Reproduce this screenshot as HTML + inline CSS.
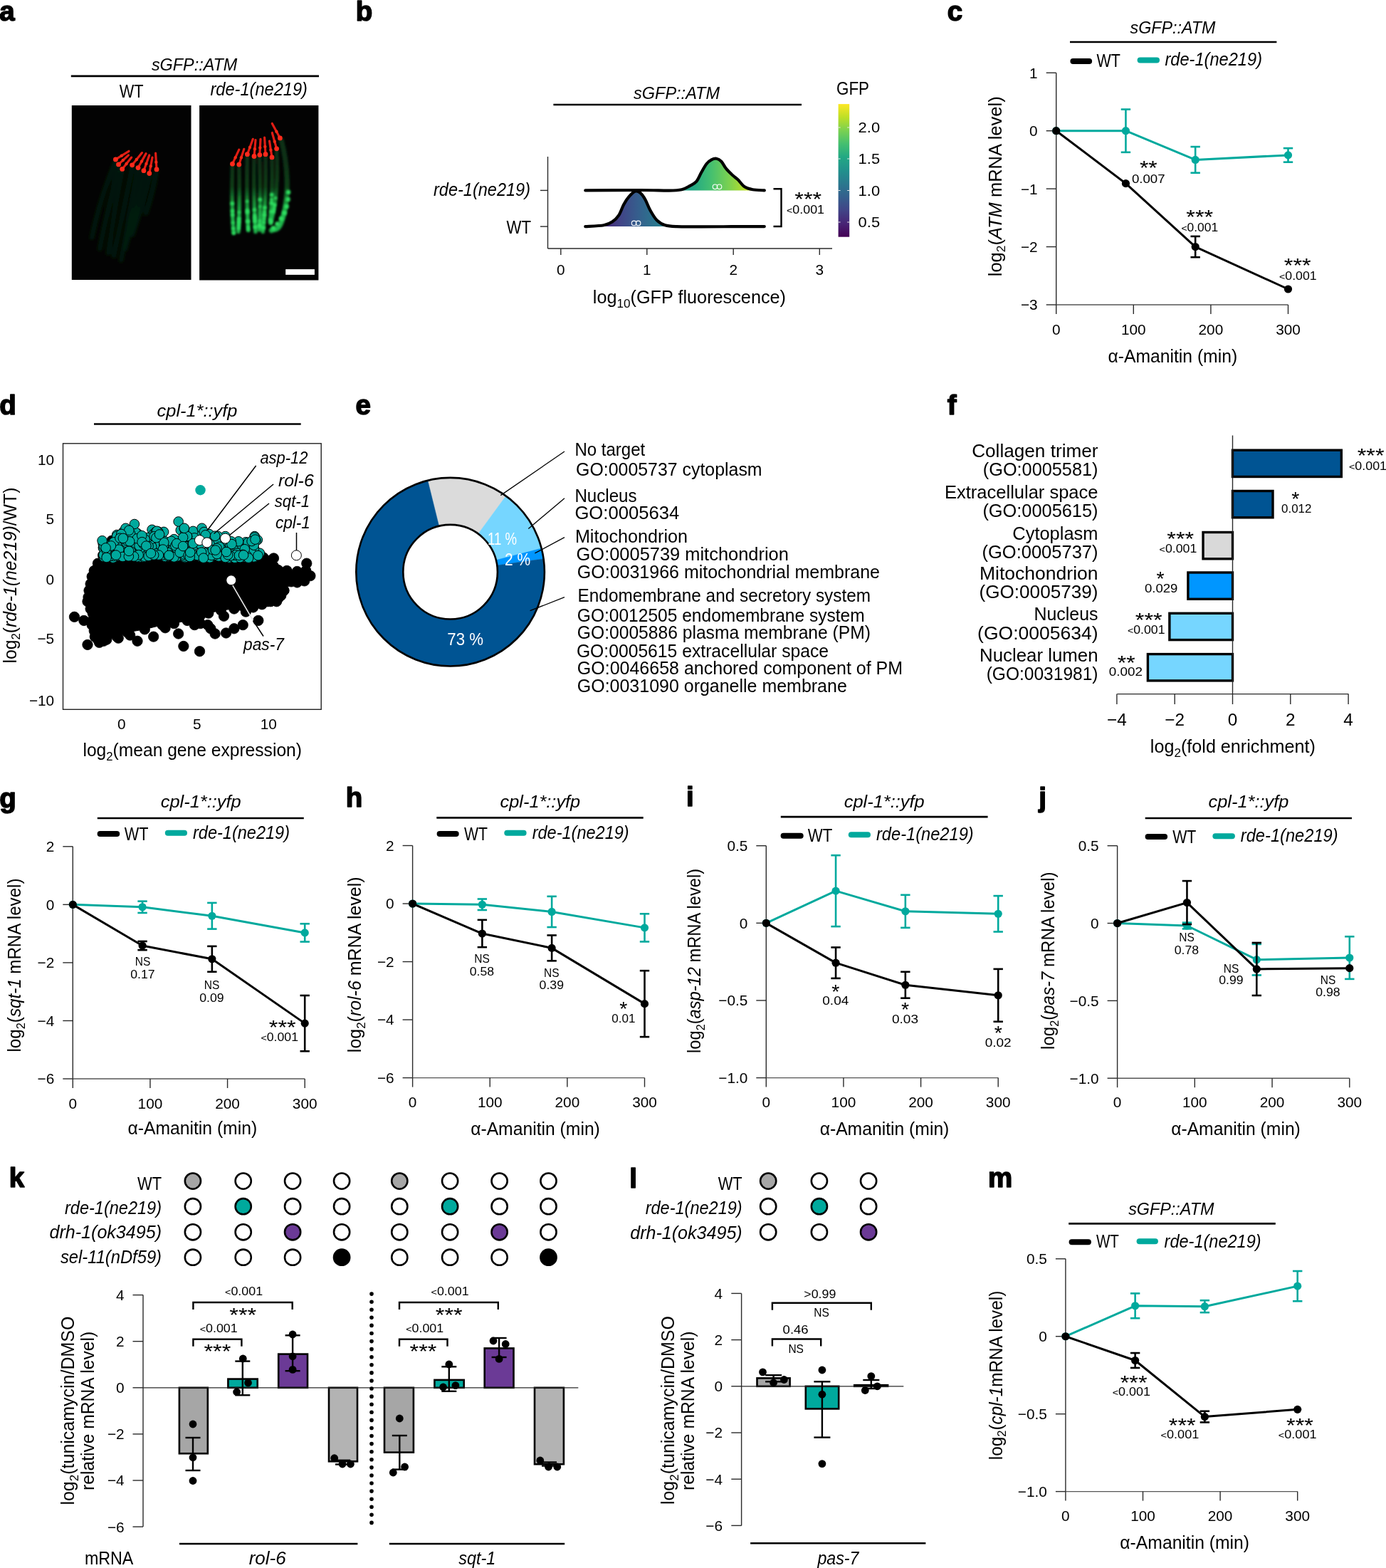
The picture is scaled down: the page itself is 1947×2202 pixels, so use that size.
<!DOCTYPE html>
<html><head><meta charset="utf-8"><title>Figure</title>
<style>
html,body{margin:0;padding:0;background:#fff;overflow:hidden;width:1947px;height:2202px;}
svg{display:block;}
text{font-family:"Liberation Sans",Arial,sans-serif;}
</style></head><body>
<svg width="1947" height="2202" viewBox="0 0 1947 2202">
<rect width="1947" height="2202" fill="#fff"/>
<defs><filter id="blur1" x="-20%" y="-20%" width="140%" height="140%"><feGaussianBlur stdDeviation="1.6"/></filter><filter id="blur2" x="-30%" y="-30%" width="160%" height="160%"><feGaussianBlur stdDeviation="2.5"/></filter><filter id="blur05" x="-20%" y="-20%" width="140%" height="140%"><feGaussianBlur stdDeviation="0.6"/></filter></defs>
<text x="-0.8" y="29.3" font-size="38.5" font-weight="bold" stroke="#000" stroke-width="1.5" stroke-linejoin="round">a</text>
<text x="273.1" y="98.5" font-size="24.5" text-anchor="middle" font-style="italic" textLength="120.4" lengthAdjust="spacingAndGlyphs">sGFP::ATM</text>
<line x1="99.8" y1="106.9" x2="448" y2="106.9" stroke="#000" stroke-width="2.6" />
<text x="184.7" y="137.4" font-size="25.3" text-anchor="middle" textLength="33.8" lengthAdjust="spacingAndGlyphs">WT</text>
<text x="363.7" y="133.8" font-size="25.3" text-anchor="middle" font-style="italic" textLength="136.6" lengthAdjust="spacingAndGlyphs">rde-1(ne219)</text>
<rect x="100.8" y="148" width="167.7" height="245" fill="#030303" />
<rect x="280.1" y="148" width="167.3" height="245.5" fill="#030303" />
<g filter="url(#blur2)">
<path d="M162.4,226 Q140,280 128.9,334" fill="none" stroke="#041a0a" stroke-width="6" stroke-linecap="round"/>
<path d="M166.5,233 Q150,300 140,350" fill="none" stroke="#041a0a" stroke-width="6" stroke-linecap="round"/>
<path d="M171.7,240 Q160,300 152,356" fill="none" stroke="#041a0a" stroke-width="6" stroke-linecap="round"/>
<path d="M185.6,234 Q172,300 160,360" fill="none" stroke="#041a0a" stroke-width="6" stroke-linecap="round"/>
<path d="M194,238 Q182,300 170,366" fill="none" stroke="#041a0a" stroke-width="6" stroke-linecap="round"/>
<path d="M201.9,242 Q190,300 176,350" fill="none" stroke="#041a0a" stroke-width="6" stroke-linecap="round"/>
<path d="M209.8,246 Q200,290 186,330" fill="none" stroke="#041a0a" stroke-width="6" stroke-linecap="round"/>
<path d="M220,240 Q215,270 205,300" fill="none" stroke="#041a0a" stroke-width="6" stroke-linecap="round"/>
</g>
<g filter="url(#blur05)">
<line x1="162.4" y1="223.9" x2="181" y2="212.3" stroke="#e01e12" stroke-width="3.2" stroke-linecap="round" />
<circle cx="170.77" cy="218.68" r="2.2" fill="#f02a18" />
<circle cx="162.4" cy="223.9" r="3.4" fill="#ff2a1a" />
<line x1="166.5" y1="230.9" x2="180.5" y2="217.9" stroke="#e01e12" stroke-width="3.2" stroke-linecap="round" />
<circle cx="172.8" cy="225.05" r="2.2" fill="#f02a18" />
<circle cx="166.5" cy="230.9" r="3.4" fill="#ff2a1a" />
<line x1="171.7" y1="237.4" x2="184.7" y2="221.1" stroke="#e01e12" stroke-width="3.2" stroke-linecap="round" />
<circle cx="177.55" cy="230.06" r="2.2" fill="#f02a18" />
<circle cx="171.7" cy="237.4" r="3.4" fill="#ff2a1a" />
<line x1="185.6" y1="231.8" x2="199.5" y2="214.6" stroke="#e01e12" stroke-width="3.2" stroke-linecap="round" />
<circle cx="191.85" cy="224.06" r="2.2" fill="#f02a18" />
<circle cx="185.6" cy="231.8" r="3.4" fill="#ff2a1a" />
<line x1="194" y1="235.6" x2="205.1" y2="215.6" stroke="#e01e12" stroke-width="3.2" stroke-linecap="round" />
<circle cx="199" cy="226.6" r="2.2" fill="#f02a18" />
<circle cx="194" cy="235.6" r="3.4" fill="#ff2a1a" />
<line x1="201.9" y1="239.7" x2="209.8" y2="217.9" stroke="#e01e12" stroke-width="3.2" stroke-linecap="round" />
<circle cx="205.46" cy="229.89" r="2.2" fill="#f02a18" />
<circle cx="201.9" cy="239.7" r="3.4" fill="#ff2a1a" />
<line x1="209.8" y1="243.5" x2="214" y2="221.1" stroke="#e01e12" stroke-width="3.2" stroke-linecap="round" />
<circle cx="211.69" cy="233.42" r="2.2" fill="#f02a18" />
<circle cx="209.8" cy="243.5" r="3.4" fill="#ff2a1a" />
<line x1="220" y1="237.9" x2="218.6" y2="215.1" stroke="#e01e12" stroke-width="3.2" stroke-linecap="round" />
<circle cx="219.37" cy="227.64" r="2.2" fill="#f02a18" />
<circle cx="220" cy="237.9" r="3.4" fill="#ff2a1a" />
</g>
<defs><linearGradient id="gw" gradientUnits="userSpaceOnUse" x1="0" y1="225" x2="0" y2="300"><stop offset="0" stop-color="#0a3114"/><stop offset="0.5" stop-color="#0c4018"/><stop offset="0.78" stop-color="#168e36"/><stop offset="1" stop-color="#1fb248"/></linearGradient></defs>
<g filter="url(#blur1)">
<path d="M326.5,233.4 Q325,290 328.3,327.3" fill="none" stroke="url(#gw)" stroke-width="5.5" stroke-linecap="round"/>
<path d="M335.8,233.4 Q337,290 334.9,325.5" fill="none" stroke="url(#gw)" stroke-width="5.5" stroke-linecap="round"/>
<path d="M347.4,219.5 Q346,280 348.8,323.6" fill="none" stroke="url(#gw)" stroke-width="5.5" stroke-linecap="round"/>
<path d="M357,222.3 Q356,280 359,325.5" fill="none" stroke="url(#gw)" stroke-width="5.5" stroke-linecap="round"/>
<path d="M364.8,220.4 Q366,280 364.6,322.7" fill="none" stroke="url(#gw)" stroke-width="5.5" stroke-linecap="round"/>
<path d="M373,219.5 Q374,280 369.3,325.5" fill="none" stroke="url(#gw)" stroke-width="5.5" stroke-linecap="round"/>
<path d="M382,224.1 Q383,275 379.5,312.5" fill="none" stroke="url(#gw)" stroke-width="5.5" stroke-linecap="round"/>
<path d="M388.6,212.1 Q392,270 380.4,313.4" fill="none" stroke="url(#gw)" stroke-width="5.5" stroke-linecap="round"/>
<path d="M395.3,197.2 C404,230 406,270 399,299.5 S386,320 381.3,323.6" fill="none" stroke="url(#gw)" stroke-width="7" stroke-linecap="round"/>
</g>
<g filter="url(#blur1)" fill="#2ee060">
<circle cx="326.48" cy="296.07" r="2.34"/>
<circle cx="326.7" cy="301.88" r="2.4"/>
<circle cx="327.23" cy="312.66" r="1.87"/>
<circle cx="326.21" cy="285.79" r="2.64"/>
<circle cx="326.51" cy="297.03" r="2.03"/>
<circle cx="328.29" cy="327.14" r="2.27"/>
<circle cx="327.79" cy="321.07" r="2.28"/>
<circle cx="335.55" cy="312" r="1.95"/>
<circle cx="335.56" cy="311.83" r="2.67"/>
<circle cx="335.71" cy="307.37" r="2.54"/>
<circle cx="335.5" cy="313.27" r="1.86"/>
<circle cx="335.36" cy="316.61" r="2.39"/>
<circle cx="335.96" cy="298.12" r="1.83"/>
<circle cx="335.17" cy="320.63" r="2.27"/>
<circle cx="348.1" cy="311.01" r="2.68"/>
<circle cx="348.09" cy="310.79" r="2.72"/>
<circle cx="347.49" cy="295.67" r="2.6"/>
<circle cx="347.57" cy="298.08" r="2.74"/>
<circle cx="348.48" cy="318.26" r="1.9"/>
<circle cx="347.16" cy="282.77" r="2.02"/>
<circle cx="348.7" cy="322.09" r="2.24"/>
<circle cx="358.02" cy="308.09" r="2.1"/>
<circle cx="357.76" cy="302.34" r="2.19"/>
<circle cx="357.47" cy="294.68" r="2.39"/>
<circle cx="357.93" cy="306.06" r="2.7"/>
<circle cx="358.15" cy="310.72" r="2.73"/>
<circle cx="358.59" cy="318.9" r="2.79"/>
<circle cx="358.12" cy="310.21" r="1.96"/>
<circle cx="364.78" cy="316.67" r="2.76"/>
<circle cx="364.73" cy="318.59" r="2.37"/>
<circle cx="364.95" cy="310.13" r="2.01"/>
<circle cx="364.82" cy="315.39" r="2.37"/>
<circle cx="365.27" cy="290.01" r="1.86"/>
<circle cx="364.79" cy="316.37" r="2.79"/>
<circle cx="365.34" cy="280.27" r="2.6"/>
<circle cx="371.58" cy="297.37" r="1.95"/>
<circle cx="371.91" cy="291.5" r="2.57"/>
<circle cx="369.87" cy="319.65" r="1.84"/>
<circle cx="370.9" cy="307.4" r="1.84"/>
<circle cx="370.51" cy="312.39" r="2.13"/>
<circle cx="369.84" cy="320.03" r="2.78"/>
<circle cx="371.28" cy="302.08" r="2.8"/>
<circle cx="381.38" cy="285.02" r="1.88"/>
<circle cx="380.72" cy="296.95" r="1.83"/>
<circle cx="381.58" cy="280.24" r="2.21"/>
<circle cx="380.69" cy="297.38" r="1.96"/>
<circle cx="381.82" cy="273.52" r="2.67"/>
<circle cx="381.37" cy="285.19" r="2.76"/>
<circle cx="379.85" cy="308.59" r="2.18"/>
<circle cx="385.57" cy="288.93" r="2.32"/>
<circle cx="384.06" cy="297.49" r="2.4"/>
<circle cx="384.78" cy="293.57" r="2.42"/>
<circle cx="381.08" cy="310.81" r="2.31"/>
<circle cx="385.78" cy="287.54" r="2.52"/>
<circle cx="387.06" cy="278.21" r="2.1"/>
<circle cx="380.66" cy="312.43" r="2.32"/>
<circle cx="405" cy="270" r="3.2"/>
<circle cx="404.5" cy="280" r="3.2"/>
<circle cx="402.5" cy="290" r="3.2"/>
<circle cx="399.5" cy="299" r="3.2"/>
<circle cx="395" cy="307" r="3.2"/>
<circle cx="389.5" cy="314.5" r="3.2"/>
<circle cx="384" cy="320.5" r="3.2"/>
</g>
<g filter="url(#blur05)">
<line x1="326.5" y1="230.2" x2="335.8" y2="210.2" stroke="#e01e12" stroke-width="3.2" stroke-linecap="round" />
<circle cx="330.69" cy="221.2" r="2.2" fill="#f02a18" />
<circle cx="326.5" cy="230.2" r="3.4" fill="#ff2a1a" />
<line x1="335.8" y1="231.1" x2="342.8" y2="209.3" stroke="#e01e12" stroke-width="3.2" stroke-linecap="round" />
<circle cx="338.95" cy="221.29" r="2.2" fill="#f02a18" />
<circle cx="335.8" cy="231.1" r="3.4" fill="#ff2a1a" />
<line x1="347.4" y1="216.7" x2="355.3" y2="195.3" stroke="#e01e12" stroke-width="3.2" stroke-linecap="round" />
<circle cx="350.95" cy="207.07" r="2.2" fill="#f02a18" />
<circle cx="347.4" cy="216.7" r="3.4" fill="#ff2a1a" />
<line x1="357" y1="219.5" x2="359" y2="196.7" stroke="#e01e12" stroke-width="3.2" stroke-linecap="round" />
<circle cx="357.9" cy="209.24" r="2.2" fill="#f02a18" />
<circle cx="357" cy="219.5" r="3.4" fill="#ff2a1a" />
<line x1="364.8" y1="217.6" x2="366" y2="195.3" stroke="#e01e12" stroke-width="3.2" stroke-linecap="round" />
<circle cx="365.34" cy="207.56" r="2.2" fill="#f02a18" />
<circle cx="364.8" cy="217.6" r="3.4" fill="#ff2a1a" />
<line x1="373" y1="216.7" x2="371.6" y2="193" stroke="#e01e12" stroke-width="3.2" stroke-linecap="round" />
<circle cx="372.37" cy="206.03" r="2.2" fill="#f02a18" />
<circle cx="373" cy="216.7" r="3.4" fill="#ff2a1a" />
<line x1="382" y1="220.9" x2="378.5" y2="198.1" stroke="#e01e12" stroke-width="3.2" stroke-linecap="round" />
<circle cx="380.43" cy="210.64" r="2.2" fill="#f02a18" />
<circle cx="382" cy="220.9" r="3.4" fill="#ff2a1a" />
<line x1="388.6" y1="208.8" x2="382.3" y2="186.5" stroke="#e01e12" stroke-width="3.2" stroke-linecap="round" />
<circle cx="385.77" cy="198.77" r="2.2" fill="#f02a18" />
<circle cx="388.6" cy="208.8" r="3.4" fill="#ff2a1a" />
<line x1="393.4" y1="193.9" x2="382.3" y2="173.5" stroke="#e01e12" stroke-width="3.2" stroke-linecap="round" />
<circle cx="388.4" cy="184.72" r="2.2" fill="#f02a18" />
<circle cx="393.4" cy="193.9" r="3.4" fill="#ff2a1a" />
</g>
<rect x="401.2" y="378.1" width="40.7" height="7.8" fill="#fff" />
<text x="499.7" y="29.3" font-size="38.5" font-weight="bold" stroke="#000" stroke-width="1.5" stroke-linejoin="round">b</text>
<text x="950.5" y="138.5" font-size="24.5" text-anchor="middle" font-style="italic" textLength="121" lengthAdjust="spacingAndGlyphs">sGFP::ATM</text>
<line x1="777.4" y1="147" x2="1126" y2="147" stroke="#000" stroke-width="2.6" />
<defs><linearGradient id="vir" x1="0" y1="1" x2="0" y2="0"><stop offset="0" stop-color="#440154"/><stop offset="0.1" stop-color="#482475"/><stop offset="0.2" stop-color="#414487"/><stop offset="0.3" stop-color="#355f8d"/><stop offset="0.4" stop-color="#2a788e"/><stop offset="0.5" stop-color="#21918c"/><stop offset="0.6" stop-color="#22a884"/><stop offset="0.7" stop-color="#44bf70"/><stop offset="0.8" stop-color="#7ad151"/><stop offset="0.9" stop-color="#bddf26"/><stop offset="1" stop-color="#fde725"/></linearGradient><linearGradient id="virx" gradientUnits="userSpaceOnUse" x1="820.6" y1="0" x2="1074.7" y2="0"><stop offset="0" stop-color="#440154"/><stop offset="0.1" stop-color="#482475"/><stop offset="0.2" stop-color="#414487"/><stop offset="0.3" stop-color="#355f8d"/><stop offset="0.4" stop-color="#2a788e"/><stop offset="0.5" stop-color="#21918c"/><stop offset="0.6" stop-color="#22a884"/><stop offset="0.7" stop-color="#44bf70"/><stop offset="0.8" stop-color="#7ad151"/><stop offset="0.9" stop-color="#bddf26"/><stop offset="1" stop-color="#fde725"/></linearGradient></defs>
<rect x="1177.6" y="146.1" width="15.6" height="186.6" fill="url(#vir)" />
<line x1="1177.6" y1="179" x2="1180.6" y2="179" stroke="#e8e8e8" stroke-width="1" />
<line x1="1190.2" y1="179" x2="1193.2" y2="179" stroke="#e8e8e8" stroke-width="1" />
<line x1="1177.6" y1="223" x2="1180.6" y2="223" stroke="#e8e8e8" stroke-width="1" />
<line x1="1190.2" y1="223" x2="1193.2" y2="223" stroke="#e8e8e8" stroke-width="1" />
<line x1="1177.6" y1="267.5" x2="1180.6" y2="267.5" stroke="#e8e8e8" stroke-width="1" />
<line x1="1190.2" y1="267.5" x2="1193.2" y2="267.5" stroke="#e8e8e8" stroke-width="1" />
<line x1="1177.6" y1="312" x2="1180.6" y2="312" stroke="#e8e8e8" stroke-width="1" />
<line x1="1190.2" y1="312" x2="1193.2" y2="312" stroke="#e8e8e8" stroke-width="1" />
<text x="1175" y="133.4" font-size="25.3" textLength="46" lengthAdjust="spacingAndGlyphs">GFP</text>
<text x="1205.6" y="186.4" font-size="20.8" textLength="30.5" lengthAdjust="spacingAndGlyphs">2.0</text>
<text x="1205.6" y="230.4" font-size="20.8" textLength="30.5" lengthAdjust="spacingAndGlyphs">1.5</text>
<text x="1205.6" y="274.9" font-size="20.8" textLength="30.5" lengthAdjust="spacingAndGlyphs">1.0</text>
<text x="1205.6" y="319.4" font-size="20.8" textLength="30.5" lengthAdjust="spacingAndGlyphs">0.5</text>
<line x1="769.5" y1="220" x2="769.5" y2="349" stroke="#2a2a2a" stroke-width="1.4" />
<line x1="769.5" y1="349" x2="1169" y2="349" stroke="#2a2a2a" stroke-width="1.4" />
<line x1="787.8" y1="349" x2="787.8" y2="358" stroke="#2a2a2a" stroke-width="1.4" />
<text x="787.8" y="385.8" font-size="20.8" text-anchor="middle">0</text>
<line x1="908.8" y1="349" x2="908.8" y2="358" stroke="#2a2a2a" stroke-width="1.4" />
<text x="908.8" y="385.8" font-size="20.8" text-anchor="middle">1</text>
<line x1="1030.2" y1="349" x2="1030.2" y2="358" stroke="#2a2a2a" stroke-width="1.4" />
<text x="1030.2" y="385.8" font-size="20.8" text-anchor="middle">2</text>
<line x1="1151.3" y1="349" x2="1151.3" y2="358" stroke="#2a2a2a" stroke-width="1.4" />
<text x="1151.3" y="385.8" font-size="20.8" text-anchor="middle">3</text>
<line x1="759" y1="267.4" x2="769.5" y2="267.4" stroke="#2a2a2a" stroke-width="1.4" />
<line x1="759" y1="318.1" x2="769.5" y2="318.1" stroke="#2a2a2a" stroke-width="1.4" />
<text x="745" y="275" font-size="25.3" text-anchor="end" font-style="italic" textLength="136" lengthAdjust="spacingAndGlyphs">rde-1(ne219)</text>
<text x="746" y="327.5" font-size="25.3" text-anchor="end" textLength="34.5" lengthAdjust="spacingAndGlyphs">WT</text>
<path d="M822.3,318.1 C826.63,317.78 842.02,317.28 848.3,316.2 C854.58,315.12 856.52,313.92 860,311.6 C863.48,309.28 866.5,306.37 869.2,302.3 C871.9,298.23 873.87,291.47 876.2,287.2 C878.53,282.93 880.48,279.8 883.2,276.7 C885.92,273.6 889.78,269.57 892.5,268.6 C895.22,267.63 897.18,268.97 899.5,270.9 C901.82,272.83 904.08,276.13 906.4,280.2 C908.72,284.27 910.68,290.47 913.4,295.3 C916.12,300.13 919.22,305.72 922.7,309.2 C926.18,312.68 929.65,314.72 934.3,316.2 C938.95,317.68 942.15,317.75 950.6,318.1 C959.05,318.45 964.47,318.3 985,318.3 C1005.53,318.3 1059,318.13 1073.8,318.1 L822.3,318.1 Z" fill="url(#virx)" />
<path d="M822.3,267.4 C835.25,267.33 880.38,266.97 900,267 C919.62,267.03 930.4,267.73 940,267.6 C949.6,267.47 952.73,267.32 957.6,266.2 C962.47,265.08 965.72,262.83 969.2,260.9 C972.68,258.97 975.8,257.78 978.5,254.6 C981.2,251.42 983.08,245.87 985.4,241.8 C987.72,237.73 990.07,233.1 992.4,230.2 C994.73,227.3 997.07,225.63 999.4,224.4 C1001.73,223.17 1004.08,222.42 1006.4,222.8 C1008.72,223.18 1010.98,224.3 1013.3,226.7 C1015.62,229.1 1017.58,233.9 1020.3,237.2 C1023.02,240.5 1026.88,243.98 1029.6,246.5 C1032.32,249.02 1033.88,249.67 1036.6,252.3 C1039.32,254.93 1042.42,259.98 1045.9,262.3 C1049.38,264.62 1052.85,265.35 1057.5,266.2 C1062.15,267.05 1071.08,267.2 1073.8,267.4 L822.3,267.4 Z" fill="url(#virx)" />
<path d="M822.3,318.1 C826.63,317.78 842.02,317.28 848.3,316.2 C854.58,315.12 856.52,313.92 860,311.6 C863.48,309.28 866.5,306.37 869.2,302.3 C871.9,298.23 873.87,291.47 876.2,287.2 C878.53,282.93 880.48,279.8 883.2,276.7 C885.92,273.6 889.78,269.57 892.5,268.6 C895.22,267.63 897.18,268.97 899.5,270.9 C901.82,272.83 904.08,276.13 906.4,280.2 C908.72,284.27 910.68,290.47 913.4,295.3 C916.12,300.13 919.22,305.72 922.7,309.2 C926.18,312.68 929.65,314.72 934.3,316.2 C938.95,317.68 942.15,317.75 950.6,318.1 C959.05,318.45 964.47,318.3 985,318.3 C1005.53,318.3 1059,318.13 1073.8,318.1" fill="none" stroke="#000" stroke-width="4.2" stroke-linecap="round" stroke-linejoin="round"/>
<path d="M822.3,267.4 C835.25,267.33 880.38,266.97 900,267 C919.62,267.03 930.4,267.73 940,267.6 C949.6,267.47 952.73,267.32 957.6,266.2 C962.47,265.08 965.72,262.83 969.2,260.9 C972.68,258.97 975.8,257.78 978.5,254.6 C981.2,251.42 983.08,245.87 985.4,241.8 C987.72,237.73 990.07,233.1 992.4,230.2 C994.73,227.3 997.07,225.63 999.4,224.4 C1001.73,223.17 1004.08,222.42 1006.4,222.8 C1008.72,223.18 1010.98,224.3 1013.3,226.7 C1015.62,229.1 1017.58,233.9 1020.3,237.2 C1023.02,240.5 1026.88,243.98 1029.6,246.5 C1032.32,249.02 1033.88,249.67 1036.6,252.3 C1039.32,254.93 1042.42,259.98 1045.9,262.3 C1049.38,264.62 1052.85,265.35 1057.5,266.2 C1062.15,267.05 1071.08,267.2 1073.8,267.4" fill="none" stroke="#000" stroke-width="4.2" stroke-linecap="round" stroke-linejoin="round"/>
<circle cx="1004.5" cy="262.3" r="3.3" fill="none" stroke="#fff" stroke-width="1.1" />
<circle cx="1010.5" cy="262.3" r="3.3" fill="none" stroke="#fff" stroke-width="1.1" />
<circle cx="890.6" cy="313.4" r="3.3" fill="none" stroke="#fff" stroke-width="1.1" />
<circle cx="896.6" cy="313.4" r="3.3" fill="none" stroke="#fff" stroke-width="1.1" />
<path d="M1086.5,265.2 H1097.5 V318 H1086.5" fill="none" stroke="#000" stroke-width="2.4" />
<text x="1135.3" y="289.21" font-size="28.5" text-anchor="middle" textLength="37.9" lengthAdjust="spacingAndGlyphs">***</text>
<text x="1105" y="300" font-size="17" textLength="53" lengthAdjust="spacingAndGlyphs"><tspan font-size="13.6">&lt;</tspan>0.001</text>
<text x="968.4" y="426" font-size="25.3" text-anchor="middle" textLength="271.2" lengthAdjust="spacingAndGlyphs"><tspan>log</tspan><tspan font-size="17.2" dy="5.57">10</tspan><tspan dy="-5.57">(GFP fluorescence)</tspan></text>
<text x="1330.7" y="28.6" font-size="38.5" font-weight="bold" stroke="#000" stroke-width="1.5" stroke-linejoin="round">c</text>
<text x="1647.5" y="46.5" font-size="24.5" text-anchor="middle" font-style="italic" textLength="120" lengthAdjust="spacingAndGlyphs">sGFP::ATM</text>
<line x1="1503" y1="59" x2="1793.4" y2="59" stroke="#000" stroke-width="2.6" />
<line x1="1507.4" y1="86" x2="1530.1" y2="86" stroke="#000" stroke-width="8" stroke-linecap="round" />
<text x="1540.6" y="93.8" font-size="25.3" textLength="33.4" lengthAdjust="spacingAndGlyphs">WT</text>
<line x1="1601.6" y1="84.5" x2="1625" y2="84.5" stroke="#00a99d" stroke-width="8" stroke-linecap="round" />
<text x="1636.5" y="91.9" font-size="25.3" font-style="italic" textLength="136.5" lengthAdjust="spacingAndGlyphs">rde-1(ne219)</text>
<line x1="1483.7" y1="102.27" x2="1483.7" y2="428" stroke="#2a2a2a" stroke-width="1.4" />
<line x1="1483.7" y1="428" x2="1809.5" y2="428" stroke="#555" stroke-width="1.4" />
<line x1="1469.7" y1="102.27" x2="1483.7" y2="102.27" stroke="#2a2a2a" stroke-width="1.4" />
<text x="1457.7" y="109.67" font-size="20.8" text-anchor="end">1</text>
<line x1="1469.7" y1="183.7" x2="1483.7" y2="183.7" stroke="#2a2a2a" stroke-width="1.4" />
<text x="1457.7" y="191.1" font-size="20.8" text-anchor="end">0</text>
<line x1="1469.7" y1="265.13" x2="1483.7" y2="265.13" stroke="#2a2a2a" stroke-width="1.4" />
<text x="1457.7" y="272.53" font-size="20.8" text-anchor="end">−1</text>
<line x1="1469.7" y1="346.57" x2="1483.7" y2="346.57" stroke="#2a2a2a" stroke-width="1.4" />
<text x="1457.7" y="353.97" font-size="20.8" text-anchor="end">−2</text>
<line x1="1469.7" y1="428" x2="1483.7" y2="428" stroke="#2a2a2a" stroke-width="1.4" />
<text x="1457.7" y="435.4" font-size="20.8" text-anchor="end">−3</text>
<line x1="1483.7" y1="428" x2="1483.7" y2="441" stroke="#2a2a2a" stroke-width="1.4" />
<text x="1483.7" y="469.8" font-size="20.8" text-anchor="middle">0</text>
<line x1="1592.3" y1="428" x2="1592.3" y2="441" stroke="#2a2a2a" stroke-width="1.4" />
<text x="1592.3" y="469.8" font-size="20.8" text-anchor="middle">100</text>
<line x1="1700.9" y1="428" x2="1700.9" y2="441" stroke="#2a2a2a" stroke-width="1.4" />
<text x="1700.9" y="469.8" font-size="20.8" text-anchor="middle">200</text>
<line x1="1809.5" y1="428" x2="1809.5" y2="441" stroke="#2a2a2a" stroke-width="1.4" />
<text x="1809.5" y="469.8" font-size="20.8" text-anchor="middle">300</text>
<text x="1647.3" y="508.5" font-size="25.3" text-anchor="middle" textLength="181.7" lengthAdjust="spacingAndGlyphs"><tspan>α-Amanitin (min)</tspan></text>
<text x="0" y="0" font-size="25.3" text-anchor="middle" textLength="252.9" lengthAdjust="spacingAndGlyphs" transform="translate(1406.7,261.8) rotate(-90)"><tspan>log</tspan><tspan font-size="17.2" dy="5.57">2</tspan><tspan dy="-5.57">(</tspan><tspan font-style="italic">ATM</tspan><tspan> mRNA level)</tspan></text>
<line x1="1581.44" y1="213.83" x2="1581.44" y2="153.57" stroke="#00a99d" stroke-width="2.6" />
<line x1="1574.74" y1="213.83" x2="1588.14" y2="213.83" stroke="#00a99d" stroke-width="2.6" />
<line x1="1574.74" y1="153.57" x2="1588.14" y2="153.57" stroke="#00a99d" stroke-width="2.6" />
<line x1="1679.18" y1="242.74" x2="1679.18" y2="206.09" stroke="#00a99d" stroke-width="2.6" />
<line x1="1672.48" y1="242.74" x2="1685.88" y2="242.74" stroke="#00a99d" stroke-width="2.6" />
<line x1="1672.48" y1="206.09" x2="1685.88" y2="206.09" stroke="#00a99d" stroke-width="2.6" />
<line x1="1809.5" y1="227.67" x2="1809.5" y2="208.13" stroke="#00a99d" stroke-width="2.6" />
<line x1="1802.8" y1="227.67" x2="1816.2" y2="227.67" stroke="#00a99d" stroke-width="2.6" />
<line x1="1802.8" y1="208.13" x2="1816.2" y2="208.13" stroke="#00a99d" stroke-width="2.6" />
<polyline points="1483.7,183.7 1581.44,183.7 1679.18,224.42 1809.5,217.9" fill="none" stroke="#00a99d" stroke-width="3" stroke-linejoin="round"/>
<circle cx="1483.7" cy="183.7" r="5.6" fill="#00a99d" />
<circle cx="1581.44" cy="183.7" r="5.6" fill="#00a99d" />
<circle cx="1679.18" cy="224.42" r="5.6" fill="#00a99d" />
<circle cx="1809.5" cy="217.9" r="5.6" fill="#00a99d" />
<line x1="1679.18" y1="361.22" x2="1679.18" y2="331.91" stroke="#000" stroke-width="2.6" />
<line x1="1672.48" y1="361.22" x2="1685.88" y2="361.22" stroke="#000" stroke-width="2.6" />
<line x1="1672.48" y1="331.91" x2="1685.88" y2="331.91" stroke="#000" stroke-width="2.6" />
<polyline points="1483.7,183.7 1581.44,257.64 1679.18,346.57 1809.5,406.01" fill="none" stroke="#000" stroke-width="3" stroke-linejoin="round"/>
<circle cx="1483.7" cy="183.7" r="5.6" fill="#000" />
<circle cx="1581.44" cy="257.64" r="5.6" fill="#000" />
<circle cx="1679.18" cy="346.57" r="5.6" fill="#000" />
<circle cx="1809.5" cy="406.01" r="5.6" fill="#000" />
<text x="1613.3" y="245.41" font-size="28.5" text-anchor="middle" textLength="24.8" lengthAdjust="spacingAndGlyphs">**</text>
<text x="1589.9" y="256.9" font-size="17" textLength="46.7" lengthAdjust="spacingAndGlyphs">0.007</text>
<text x="1685.3" y="313.81" font-size="28.5" text-anchor="middle" textLength="37.9" lengthAdjust="spacingAndGlyphs">***</text>
<text x="1659.4" y="325.3" font-size="17" textLength="51.8" lengthAdjust="spacingAndGlyphs"><tspan font-size="13.6">&lt;</tspan>0.001</text>
<text x="1822.7" y="382.11" font-size="28.5" text-anchor="middle" textLength="37.9" lengthAdjust="spacingAndGlyphs">***</text>
<text x="1797" y="392.7" font-size="17" textLength="52.6" lengthAdjust="spacingAndGlyphs"><tspan font-size="13.6">&lt;</tspan>0.001</text>
<text x="-0.8" y="582.3" font-size="38.5" font-weight="bold" stroke="#000" stroke-width="1.5" stroke-linejoin="round">d</text>
<text x="277" y="585" font-size="24.5" text-anchor="middle" font-style="italic" textLength="112.8" lengthAdjust="spacingAndGlyphs">cpl-1*::yfp</text>
<line x1="132" y1="595.5" x2="422.7" y2="595.5" stroke="#000" stroke-width="2.6" />
<text x="76.2" y="652.8" font-size="20.8" text-anchor="end">10</text>
<text x="76.2" y="736.2" font-size="20.8" text-anchor="end">5</text>
<text x="76.2" y="820.7" font-size="20.8" text-anchor="end">0</text>
<text x="76.2" y="903.8" font-size="20.8" text-anchor="end">−5</text>
<text x="76.2" y="990.5" font-size="20.8" text-anchor="end">−10</text>
<text x="170.8" y="1023.7" font-size="20.8" text-anchor="middle">0</text>
<text x="276.9" y="1023.7" font-size="20.8" text-anchor="middle">5</text>
<text x="377.3" y="1023.7" font-size="20.8" text-anchor="middle">10</text>
<text x="270.2" y="1062.3" font-size="25.3" text-anchor="middle" textLength="307.5" lengthAdjust="spacingAndGlyphs"><tspan>log</tspan><tspan font-size="17.2" dy="5.57">2</tspan><tspan dy="-5.57">(mean gene expression)</tspan></text>
<text x="0" y="0" font-size="25.3" text-anchor="middle" textLength="247" lengthAdjust="spacingAndGlyphs" transform="translate(22.9,808.1) rotate(-90)"><tspan>log</tspan><tspan font-size="17.2" dy="5.57">2</tspan><tspan dy="-5.57">(</tspan><tspan font-style="italic">rde-1(ne219)</tspan><tspan>/WT)</tspan></text>
<g fill="#000" stroke="#000" stroke-width="0.8">
<path d="M144.61,779.85 L137.41,791.17 L132.26,801.46 L129.17,809.7 L127.12,819.99 L125.06,829.26 L124.03,838.52 L123,844.7 L127.12,854.99 L130.2,861.17 L131.23,869.4 L129.17,877.64 L132.26,885.87 L133.29,894.1 L137.41,898.22 L149.76,898.22 L164.17,894.1 L178.58,887.93 L203.29,883.81 L227.99,877.64 L244.46,875.58 L262.99,871.46 L281.52,875.58 L292.84,861.17 L310.34,857.05 L328.87,854.99 L345.34,859.11 L355.63,852.93 L367.98,848.81 L380.34,844.7 L388.57,844.7 L394.75,836.46 L398.86,829.26 L392.69,819.99 L402.98,816.9 L417.39,817.93 L427.69,815.87 L435.92,808.67 L429.74,801.46 L417.39,802.49 L402.98,801.46 L390.63,800.43 L384.45,795.29 L380.34,787.05 L370.04,782.93 L361.81,783.96 L293.87,782.52 L211.52,782.52 L149.76,781.91 Z" fill="#000" stroke="#000" stroke-width="1" />
<circle cx="144.61" cy="779.85" r="7.2" fill="#000" />
<circle cx="137.41" cy="791.17" r="7.2" fill="#000" />
<circle cx="132.26" cy="801.46" r="7.2" fill="#000" />
<circle cx="129.17" cy="809.7" r="7.2" fill="#000" />
<circle cx="127.12" cy="819.99" r="7.2" fill="#000" />
<circle cx="125.06" cy="829.26" r="7.2" fill="#000" />
<circle cx="124.03" cy="838.52" r="7.2" fill="#000" />
<circle cx="123" cy="844.7" r="7.2" fill="#000" />
<circle cx="127.12" cy="854.99" r="7.2" fill="#000" />
<circle cx="130.2" cy="861.17" r="7.2" fill="#000" />
<circle cx="131.23" cy="869.4" r="7.2" fill="#000" />
<circle cx="129.17" cy="877.64" r="7.2" fill="#000" />
<circle cx="132.26" cy="885.87" r="7.2" fill="#000" />
<circle cx="133.29" cy="894.1" r="7.2" fill="#000" />
<circle cx="137.41" cy="898.22" r="7.2" fill="#000" />
<circle cx="149.76" cy="898.22" r="7.2" fill="#000" />
<circle cx="164.17" cy="894.1" r="7.2" fill="#000" />
<circle cx="178.58" cy="887.93" r="7.2" fill="#000" />
<circle cx="203.29" cy="883.81" r="7.2" fill="#000" />
<circle cx="227.99" cy="877.64" r="7.2" fill="#000" />
<circle cx="244.46" cy="875.58" r="7.2" fill="#000" />
<circle cx="262.99" cy="871.46" r="7.2" fill="#000" />
<circle cx="281.52" cy="875.58" r="7.2" fill="#000" />
<circle cx="292.84" cy="861.17" r="7.2" fill="#000" />
<circle cx="310.34" cy="857.05" r="7.2" fill="#000" />
<circle cx="328.87" cy="854.99" r="7.2" fill="#000" />
<circle cx="345.34" cy="859.11" r="7.2" fill="#000" />
<circle cx="355.63" cy="852.93" r="7.2" fill="#000" />
<circle cx="367.98" cy="848.81" r="7.2" fill="#000" />
<circle cx="380.34" cy="844.7" r="7.2" fill="#000" />
<circle cx="388.57" cy="844.7" r="7.2" fill="#000" />
<circle cx="394.75" cy="836.46" r="7.2" fill="#000" />
<circle cx="398.86" cy="829.26" r="7.2" fill="#000" />
<circle cx="392.69" cy="819.99" r="7.2" fill="#000" />
<circle cx="402.98" cy="816.9" r="7.2" fill="#000" />
<circle cx="417.39" cy="817.93" r="7.2" fill="#000" />
<circle cx="427.69" cy="815.87" r="7.2" fill="#000" />
<circle cx="435.92" cy="808.67" r="7.2" fill="#000" />
<circle cx="429.74" cy="801.46" r="7.2" fill="#000" />
<circle cx="417.39" cy="802.49" r="7.2" fill="#000" />
<circle cx="402.98" cy="801.46" r="7.2" fill="#000" />
<circle cx="390.63" cy="800.43" r="7.2" fill="#000" />
<circle cx="384.45" cy="795.29" r="7.2" fill="#000" />
<circle cx="380.34" cy="787.05" r="7.2" fill="#000" />
<circle cx="370.04" cy="782.93" r="7.2" fill="#000" />
<circle cx="361.81" cy="783.96" r="7.2" fill="#000" />
<circle cx="293.87" cy="782.52" r="7.2" fill="#000" />
<circle cx="211.52" cy="782.52" r="7.2" fill="#000" />
<circle cx="149.76" cy="781.91" r="7.2" fill="#000" />
<circle cx="192.99" cy="900.28" r="7.2" fill="#000" />
<circle cx="215.64" cy="894.1" r="7.2" fill="#000" />
<circle cx="250.64" cy="889.99" r="7.2" fill="#000" />
<circle cx="295.93" cy="882.78" r="7.2" fill="#000" />
<circle cx="302.1" cy="889.99" r="7.2" fill="#000" />
<circle cx="317.55" cy="888.96" r="7.2" fill="#000" />
<circle cx="328.87" cy="882.78" r="7.2" fill="#000" />
<circle cx="341.22" cy="877.64" r="7.2" fill="#000" />
<circle cx="362.84" cy="871.46" r="7.2" fill="#000" />
<circle cx="384.45" cy="783.96" r="7.2" fill="#000" />
<circle cx="104.47" cy="866.31" r="7.2" fill="#000" />
<circle cx="117.85" cy="871.46" r="7.2" fill="#000" />
<circle cx="123" cy="905.43" r="7.2" fill="#000" />
<circle cx="257.84" cy="907.49" r="7.2" fill="#000" />
<circle cx="280.49" cy="914.69" r="7.2" fill="#000" />
<circle cx="430.77" cy="791.17" r="7.2" fill="#000" />
<circle cx="156.97" cy="759.26" r="7.2" fill="#000" />
<circle cx="417.39" cy="815.87" r="7.2" fill="#000" />
<circle cx="409.16" cy="816.9" r="7.2" fill="#000" />
<circle cx="398.86" cy="829.26" r="7.2" fill="#000" />
<circle cx="390.63" cy="840.58" r="7.2" fill="#000" />
<circle cx="376.22" cy="844.7" r="7.2" fill="#000" />
<circle cx="388.57" cy="834.4" r="7.2" fill="#000" />
<circle cx="273.28" cy="877.64" r="7.2" fill="#000" />
<circle cx="291.81" cy="877.64" r="7.2" fill="#000" />
<circle cx="182.7" cy="892.05" r="7.2" fill="#000" />
<circle cx="166.23" cy="896.16" r="7.2" fill="#000" />
<circle cx="139.47" cy="902.34" r="7.2" fill="#000" />
<circle cx="145.64" cy="900.28" r="7.2" fill="#000" />
<circle cx="232.11" cy="881.75" r="7.2" fill="#000" />
<circle cx="314.46" cy="865.28" r="7.2" fill="#000" />
</g>
<g fill="#00a99d" stroke="#000" stroke-width="1.0">
<circle cx="321.7" cy="783.57" r="6.8"/>
<circle cx="231.52" cy="765.5" r="6.8"/>
<circle cx="213.58" cy="743.82" r="6.8"/>
<circle cx="323.32" cy="769.81" r="6.8"/>
<circle cx="353.35" cy="768.49" r="6.8"/>
<circle cx="187.33" cy="751.77" r="6.8"/>
<circle cx="172.34" cy="752.88" r="6.8"/>
<circle cx="331.95" cy="767.15" r="6.8"/>
<circle cx="259.6" cy="753.35" r="6.8"/>
<circle cx="144.85" cy="769.14" r="6.8"/>
<circle cx="265.52" cy="765.45" r="6.8"/>
<circle cx="284.04" cy="757.71" r="6.8"/>
<circle cx="225.19" cy="767.5" r="6.8"/>
<circle cx="197.96" cy="782.84" r="6.8"/>
<circle cx="197.88" cy="769.96" r="6.8"/>
<circle cx="155.61" cy="769.84" r="6.8"/>
<circle cx="316.52" cy="753.08" r="6.8"/>
<circle cx="187.54" cy="746.3" r="6.8"/>
<circle cx="166.76" cy="762.73" r="6.8"/>
<circle cx="339.26" cy="775.3" r="6.8"/>
<circle cx="215.28" cy="750.15" r="6.8"/>
<circle cx="360.63" cy="779.41" r="6.8"/>
<circle cx="167.77" cy="769.22" r="6.8"/>
<circle cx="185.96" cy="759.49" r="6.8"/>
<circle cx="257.57" cy="781.48" r="6.8"/>
<circle cx="192.99" cy="748.97" r="6.8"/>
<circle cx="350.22" cy="764.79" r="6.8"/>
<circle cx="313.14" cy="768.76" r="6.8"/>
<circle cx="343.15" cy="778.99" r="6.8"/>
<circle cx="215.75" cy="764.82" r="6.8"/>
<circle cx="357.69" cy="753.08" r="6.8"/>
<circle cx="345.34" cy="761.32" r="6.8"/>
<circle cx="194.09" cy="767.31" r="6.8"/>
<circle cx="343.21" cy="782.31" r="6.8"/>
<circle cx="176.09" cy="747.24" r="6.8"/>
<circle cx="221.82" cy="763.05" r="6.8"/>
<circle cx="261.56" cy="761.88" r="6.8"/>
<circle cx="167.48" cy="759.37" r="6.8"/>
<circle cx="160.57" cy="775.31" r="6.8"/>
<circle cx="335.45" cy="779.19" r="6.8"/>
<circle cx="232.93" cy="761.13" r="6.8"/>
<circle cx="201.17" cy="774.28" r="6.8"/>
<circle cx="223.42" cy="780.06" r="6.8"/>
<circle cx="221.08" cy="766.48" r="6.8"/>
<circle cx="308.4" cy="773.39" r="6.8"/>
<circle cx="201.21" cy="765.68" r="6.8"/>
<circle cx="356.48" cy="773.43" r="6.8"/>
<circle cx="243.51" cy="764.75" r="6.8"/>
<circle cx="160.05" cy="777.43" r="6.8"/>
<circle cx="334.58" cy="776.16" r="6.8"/>
<circle cx="250.62" cy="780.49" r="6.8"/>
<circle cx="302.87" cy="769.9" r="6.8"/>
<circle cx="153.71" cy="765.59" r="6.8"/>
<circle cx="217.18" cy="776.1" r="6.8"/>
<circle cx="212.16" cy="759.81" r="6.8"/>
<circle cx="302.78" cy="757.62" r="6.8"/>
<circle cx="358.54" cy="773.74" r="6.8"/>
<circle cx="248.93" cy="781.35" r="6.8"/>
<circle cx="160.42" cy="782.37" r="6.8"/>
<circle cx="306.22" cy="753.08" r="6.8"/>
<circle cx="173.22" cy="780.56" r="6.8"/>
<circle cx="278.62" cy="749.44" r="6.8"/>
<circle cx="163.11" cy="773.46" r="6.8"/>
<circle cx="228.24" cy="780.1" r="6.8"/>
<circle cx="265.52" cy="781.26" r="6.8"/>
<circle cx="253.74" cy="744.53" r="6.8"/>
<circle cx="281.53" cy="781.79" r="6.8"/>
<circle cx="280.8" cy="779.85" r="6.8"/>
<circle cx="364.9" cy="776.76" r="6.8"/>
<circle cx="173.2" cy="746.73" r="6.8"/>
<circle cx="145.51" cy="770.26" r="6.8"/>
<circle cx="356.68" cy="782.42" r="6.8"/>
<circle cx="158.64" cy="783.63" r="6.8"/>
<circle cx="271.22" cy="745.88" r="6.8"/>
<circle cx="272.11" cy="779.48" r="6.8"/>
<circle cx="327.92" cy="763.54" r="6.8"/>
<circle cx="278.28" cy="763.97" r="6.8"/>
<circle cx="190.17" cy="747.2" r="6.8"/>
<circle cx="230.39" cy="765.81" r="6.8"/>
<circle cx="211.01" cy="756.79" r="6.8"/>
<circle cx="179.85" cy="759.09" r="6.8"/>
<circle cx="152.8" cy="773.02" r="6.8"/>
<circle cx="323.19" cy="777.45" r="6.8"/>
<circle cx="298.19" cy="780.11" r="6.8"/>
<circle cx="243.64" cy="765.89" r="6.8"/>
<circle cx="206.14" cy="761.71" r="6.8"/>
<circle cx="244.46" cy="757.2" r="6.8"/>
<circle cx="327.91" cy="782.65" r="6.8"/>
<circle cx="310.35" cy="762.04" r="6.8"/>
<circle cx="218.82" cy="746.86" r="6.8"/>
<circle cx="176.51" cy="776.65" r="6.8"/>
<circle cx="236.4" cy="781.29" r="6.8"/>
<circle cx="292.86" cy="779.27" r="6.8"/>
<circle cx="197.11" cy="770.22" r="6.8"/>
<circle cx="243.33" cy="771.1" r="6.8"/>
<circle cx="157.27" cy="774.11" r="6.8"/>
<circle cx="156.48" cy="767.85" r="6.8"/>
<circle cx="160.45" cy="764.26" r="6.8"/>
<circle cx="353.02" cy="766.32" r="6.8"/>
<circle cx="248.07" cy="770.12" r="6.8"/>
<circle cx="307.2" cy="781.51" r="6.8"/>
<circle cx="229.62" cy="758.94" r="6.8"/>
<circle cx="230.05" cy="746.91" r="6.8"/>
<circle cx="145.92" cy="782.17" r="6.8"/>
<circle cx="240.66" cy="759.88" r="6.8"/>
<circle cx="183.07" cy="749.2" r="6.8"/>
<circle cx="157.85" cy="777.67" r="6.8"/>
<circle cx="265.31" cy="781.55" r="6.8"/>
<circle cx="246.3" cy="766.35" r="6.8"/>
<circle cx="144.67" cy="763.53" r="6.8"/>
<circle cx="311.46" cy="770.78" r="6.8"/>
<circle cx="176.52" cy="741.76" r="6.8"/>
<circle cx="188.47" cy="760.3" r="6.8"/>
<circle cx="164.17" cy="751.03" r="6.8"/>
<circle cx="348.57" cy="761.8" r="6.8"/>
<circle cx="259.86" cy="783.12" r="6.8"/>
<circle cx="260.84" cy="775.83" r="6.8"/>
<circle cx="184.05" cy="764.84" r="6.8"/>
<circle cx="232.21" cy="782.07" r="6.8"/>
<circle cx="286.44" cy="780.23" r="6.8"/>
<circle cx="292.18" cy="750.55" r="6.8"/>
<circle cx="271.91" cy="780.3" r="6.8"/>
<circle cx="145.47" cy="779.22" r="6.8"/>
<circle cx="237.25" cy="778.44" r="6.8"/>
<circle cx="222.21" cy="746.55" r="6.8"/>
<circle cx="270.55" cy="761.34" r="6.8"/>
<circle cx="250.64" cy="732.5" r="6.8"/>
<circle cx="335.66" cy="767.76" r="6.8"/>
<circle cx="277.47" cy="780.07" r="6.8"/>
<circle cx="202.06" cy="782.78" r="6.8"/>
<circle cx="200.39" cy="757.33" r="6.8"/>
<circle cx="294.69" cy="783.37" r="6.8"/>
<circle cx="283.58" cy="741.76" r="6.8"/>
<circle cx="175.01" cy="764.82" r="6.8"/>
<circle cx="162.2" cy="767.86" r="6.8"/>
<circle cx="329.87" cy="783.8" r="6.8"/>
<circle cx="178.32" cy="771.75" r="6.8"/>
<circle cx="320.69" cy="780.76" r="6.8"/>
<circle cx="202.62" cy="781.69" r="6.8"/>
<circle cx="163.36" cy="755.76" r="6.8"/>
<circle cx="269.13" cy="773.1" r="6.8"/>
<circle cx="188.88" cy="736" r="6.8"/>
<circle cx="235.86" cy="775.97" r="6.8"/>
<circle cx="337.27" cy="783.2" r="6.8"/>
<circle cx="199.66" cy="762.99" r="6.8"/>
<circle cx="315.69" cy="780.78" r="6.8"/>
<circle cx="327.52" cy="779.62" r="6.8"/>
<circle cx="258.86" cy="742.53" r="6.8"/>
<circle cx="171.15" cy="764.41" r="6.8"/>
<circle cx="300.86" cy="780.07" r="6.8"/>
<circle cx="213.17" cy="767.64" r="6.8"/>
<circle cx="361.81" cy="758.23" r="6.8"/>
<circle cx="323.98" cy="766.54" r="6.8"/>
<circle cx="303.8" cy="761.54" r="6.8"/>
<circle cx="203.07" cy="757.25" r="6.8"/>
<circle cx="272.4" cy="765.85" r="6.8"/>
<circle cx="212.7" cy="757.19" r="6.8"/>
<circle cx="198.84" cy="760.47" r="6.8"/>
<circle cx="230.24" cy="761.77" r="6.8"/>
<circle cx="177.21" cy="780.53" r="6.8"/>
<circle cx="296.34" cy="770.44" r="6.8"/>
<circle cx="220.34" cy="745.79" r="6.8"/>
<circle cx="308.31" cy="767.85" r="6.8"/>
<circle cx="183.57" cy="774.37" r="6.8"/>
<circle cx="153.17" cy="777.62" r="6.8"/>
<circle cx="356.86" cy="770.23" r="6.8"/>
<circle cx="264.14" cy="754.08" r="6.8"/>
<circle cx="153.25" cy="779.75" r="6.8"/>
<circle cx="157.62" cy="767.56" r="6.8"/>
<circle cx="154.17" cy="780.91" r="6.8"/>
<circle cx="359.5" cy="759.63" r="6.8"/>
<circle cx="324.9" cy="765.29" r="6.8"/>
<circle cx="328.02" cy="771.64" r="6.8"/>
<circle cx="273.17" cy="755.41" r="6.8"/>
<circle cx="158.75" cy="779.33" r="6.8"/>
<circle cx="192.53" cy="782.23" r="6.8"/>
<circle cx="263.15" cy="753.79" r="6.8"/>
<circle cx="157.48" cy="779.24" r="6.8"/>
<circle cx="297.2" cy="779.87" r="6.8"/>
<circle cx="181.29" cy="744.74" r="6.8"/>
<circle cx="195.53" cy="766.5" r="6.8"/>
<circle cx="194.61" cy="779.24" r="6.8"/>
<circle cx="158.2" cy="763.69" r="6.8"/>
<circle cx="201.6" cy="764.13" r="6.8"/>
<circle cx="192.72" cy="756.25" r="6.8"/>
<circle cx="293.09" cy="764.16" r="6.8"/>
<circle cx="171.63" cy="756.25" r="6.8"/>
<circle cx="159.15" cy="780.74" r="6.8"/>
<circle cx="294.8" cy="764.58" r="6.8"/>
<circle cx="287.11" cy="776.07" r="6.8"/>
<circle cx="219.4" cy="777.41" r="6.8"/>
<circle cx="256.38" cy="770.13" r="6.8"/>
<circle cx="357.65" cy="754.54" r="6.8"/>
<circle cx="254.68" cy="776.22" r="6.8"/>
<circle cx="265.82" cy="776.77" r="6.8"/>
<circle cx="150.71" cy="769.16" r="6.8"/>
<circle cx="333.01" cy="776.77" r="6.8"/>
<circle cx="280.77" cy="763.84" r="6.8"/>
<circle cx="163.05" cy="779.07" r="6.8"/>
<circle cx="335.04" cy="760.29" r="6.8"/>
<circle cx="314.21" cy="780.19" r="6.8"/>
<circle cx="177.78" cy="762.1" r="6.8"/>
<circle cx="259.53" cy="781.28" r="6.8"/>
<circle cx="239.28" cy="780.06" r="6.8"/>
<circle cx="259.89" cy="750.34" r="6.8"/>
<circle cx="165.43" cy="780.42" r="6.8"/>
<circle cx="323.33" cy="765.49" r="6.8"/>
<circle cx="208.65" cy="780.99" r="6.8"/>
<circle cx="207.4" cy="755.14" r="6.8"/>
<circle cx="178.99" cy="759.94" r="6.8"/>
<circle cx="283.06" cy="775.63" r="6.8"/>
<circle cx="145.69" cy="766.69" r="6.8"/>
<circle cx="164.14" cy="752.98" r="6.8"/>
<circle cx="259.22" cy="778.82" r="6.8"/>
<circle cx="352.6" cy="775.46" r="6.8"/>
<circle cx="356.65" cy="765.73" r="6.8"/>
<circle cx="330.68" cy="779.37" r="6.8"/>
<circle cx="229.93" cy="779.2" r="6.8"/>
<circle cx="228.8" cy="771.61" r="6.8"/>
<circle cx="347.04" cy="780.74" r="6.8"/>
<circle cx="343.74" cy="771.27" r="6.8"/>
<circle cx="222.91" cy="779.52" r="6.8"/>
<circle cx="153.25" cy="781.51" r="6.8"/>
<circle cx="188.06" cy="781.47" r="6.8"/>
<circle cx="262.99" cy="753.08" r="6.8"/>
<circle cx="286.66" cy="747.11" r="6.8"/>
<circle cx="323.4" cy="780.58" r="6.8"/>
<circle cx="244.43" cy="782.44" r="6.8"/>
<circle cx="252.63" cy="775.82" r="6.8"/>
<circle cx="264.51" cy="780.21" r="6.8"/>
<circle cx="236.76" cy="781.11" r="6.8"/>
<circle cx="216.55" cy="753.21" r="6.8"/>
<circle cx="150.18" cy="781.34" r="6.8"/>
<circle cx="324.75" cy="760.29" r="6.8"/>
<circle cx="254.09" cy="761.68" r="6.8"/>
<circle cx="298.84" cy="772.05" r="6.8"/>
<circle cx="219.38" cy="755.25" r="6.8"/>
<circle cx="325.49" cy="764.11" r="6.8"/>
<circle cx="293.87" cy="750" r="6.8"/>
<circle cx="224.08" cy="750.48" r="6.8"/>
<circle cx="149.54" cy="772.54" r="6.8"/>
<circle cx="353.61" cy="760.05" r="6.8"/>
<circle cx="316.65" cy="783.09" r="6.8"/>
<circle cx="216.16" cy="779.45" r="6.8"/>
<circle cx="170.35" cy="750" r="6.8"/>
<circle cx="257.13" cy="754.78" r="6.8"/>
<circle cx="358.51" cy="757.63" r="6.8"/>
<circle cx="248.19" cy="763.24" r="6.8"/>
<circle cx="164.2" cy="764.18" r="6.8"/>
<circle cx="159.86" cy="761.37" r="6.8"/>
<circle cx="149.65" cy="782.93" r="6.8"/>
<circle cx="304.59" cy="769.92" r="6.8"/>
<circle cx="167.21" cy="771.73" r="6.8"/>
<circle cx="172.34" cy="781.98" r="6.8"/>
<circle cx="340.91" cy="778.88" r="6.8"/>
<circle cx="143.58" cy="759.26" r="6.8"/>
<circle cx="266.71" cy="782.03" r="6.8"/>
<circle cx="285.83" cy="783.69" r="6.8"/>
<circle cx="267.2" cy="775.67" r="6.8"/>
<circle cx="203.63" cy="757.47" r="6.8"/>
<circle cx="288.7" cy="751.31" r="6.8"/>
<circle cx="199.27" cy="752.15" r="6.8"/>
<circle cx="335.93" cy="779.89" r="6.8"/>
<circle cx="182.22" cy="760.34" r="6.8"/>
<circle cx="168.5" cy="755.74" r="6.8"/>
<circle cx="208.57" cy="767.23" r="6.8"/>
<circle cx="304.76" cy="778.1" r="6.8"/>
<circle cx="155.94" cy="766.47" r="6.8"/>
<circle cx="257.11" cy="767.07" r="6.8"/>
<circle cx="258.87" cy="741.76" r="6.8"/>
<circle cx="162.89" cy="779.57" r="6.8"/>
<circle cx="302.64" cy="772.63" r="6.8"/>
<circle cx="320.21" cy="779.17" r="6.8"/>
<circle cx="349.09" cy="783.66" r="6.8"/>
<circle cx="148.56" cy="769.39" r="6.8"/>
<circle cx="271.16" cy="763.28" r="6.8"/>
<circle cx="199.57" cy="761.21" r="6.8"/>
<circle cx="180.83" cy="781.3" r="6.8"/>
<circle cx="172.84" cy="755.91" r="6.8"/>
<circle cx="302.2" cy="752.7" r="6.8"/>
<circle cx="342.07" cy="779.52" r="6.8"/>
<circle cx="237.39" cy="779.91" r="6.8"/>
<circle cx="205.37" cy="766.6" r="6.8"/>
<circle cx="317.97" cy="775.05" r="6.8"/>
<circle cx="211.93" cy="777.14" r="6.8"/>
<circle cx="362.46" cy="780.11" r="6.8"/>
<circle cx="181.07" cy="773.86" r="6.8"/>
<circle cx="281.52" cy="688.23" r="7.2" stroke="none"/>
</g>
<circle cx="280.49" cy="758.64" r="7" fill="#fff" stroke="#000" stroke-width="1" />
<circle cx="290.78" cy="761.94" r="7" fill="#fff" stroke="#000" stroke-width="1" />
<circle cx="316.52" cy="756.17" r="7" fill="#fff" stroke="#000" stroke-width="1" />
<circle cx="416.36" cy="779.85" r="7" fill="#fff" stroke="#000" stroke-width="1" />
<circle cx="324.75" cy="814.84" r="7" fill="#fff" stroke="#000" stroke-width="1" />
<line x1="359.6" y1="654" x2="291.5" y2="744.5" stroke="#000" stroke-width="1.5" />
<line x1="384.1" y1="680" x2="300.5" y2="749.5" stroke="#000" stroke-width="1.5" />
<line x1="378" y1="707" x2="322.5" y2="751.5" stroke="#000" stroke-width="1.5" />
<line x1="416.5" y1="748" x2="416.5" y2="773" stroke="#000" stroke-width="1.5" />
<line x1="326.8" y1="822" x2="355.6" y2="871.5" stroke="#e6e6e6" stroke-width="1.5" />
<line x1="355.6" y1="871.5" x2="370" y2="893.5" stroke="#000" stroke-width="1.5" />
<text x="365.4" y="651" font-size="24.5" font-style="italic" textLength="67.1" lengthAdjust="spacingAndGlyphs">asp-12</text>
<text x="391" y="682.7" font-size="24.5" font-style="italic" textLength="49.7" lengthAdjust="spacingAndGlyphs">rol-6</text>
<text x="385.7" y="711.7" font-size="24.5" font-style="italic" textLength="49.4" lengthAdjust="spacingAndGlyphs">sqt-1</text>
<text x="387" y="742" font-size="24.5" font-style="italic" textLength="48.9" lengthAdjust="spacingAndGlyphs">cpl-1</text>
<text x="342.1" y="913" font-size="24.5" font-style="italic" textLength="56.8" lengthAdjust="spacingAndGlyphs">pas-7</text>
<rect x="88.5" y="622.8" width="362.7" height="373.5" fill="none" stroke="#222" stroke-width="1.4" />
<text x="499.6" y="581.8" font-size="38.5" font-weight="bold" stroke="#000" stroke-width="1.5" stroke-linejoin="round">e</text>
<path d="M600.82,674.77 A132.3,132.3 0 0 1 710.74,696.44 L671.76,749.7 A66.3,66.3 0 0 0 616.67,738.84 Z" fill="#dbdbdb" stroke="#dbdbdb" stroke-width="0.5" />
<path d="M710.74,696.44 A132.3,132.3 0 0 1 760.69,770.07 L696.79,786.6 A66.3,66.3 0 0 0 671.76,749.7 Z" fill="#76d6ff" stroke="#76d6ff" stroke-width="0.5" />
<path d="M760.69,770.07 A132.3,132.3 0 0 1 763.61,784.79 L698.25,793.97 A66.3,66.3 0 0 0 696.79,786.6 Z" fill="#0096ff" stroke="#0096ff" stroke-width="0.5" />
<path d="M763.61,784.79 A132.3,132.3 0 1 1 600.82,674.77 L616.67,738.84 A66.3,66.3 0 1 0 698.25,793.97 Z" fill="#005493" stroke="#005493" stroke-width="0.5" />
<circle cx="632.6" cy="803.2" r="132.3" fill="none" stroke="#000" stroke-width="2.6" />
<circle cx="632.6" cy="803.2" r="66.3" fill="#fff" stroke="#000" stroke-width="2.6" />
<text x="685" y="765.1" font-size="23.8" fill="#fff" textLength="41" lengthAdjust="spacingAndGlyphs">11 %</text>
<text x="709" y="794" font-size="23.8" fill="#fff" textLength="36.2" lengthAdjust="spacingAndGlyphs">2 %</text>
<text x="628.3" y="906.4" font-size="23.8" fill="#fff" textLength="50.7" lengthAdjust="spacingAndGlyphs">73 %</text>
<line x1="703.3" y1="695.6" x2="793" y2="634" stroke="#000" stroke-width="1.3" />
<line x1="742.3" y1="742.4" x2="793" y2="699.7" stroke="#000" stroke-width="1.3" />
<line x1="751.4" y1="776.9" x2="793" y2="754.6" stroke="#000" stroke-width="1.3" />
<line x1="744.6" y1="857.7" x2="793" y2="838.6" stroke="#000" stroke-width="1.3" />
<text x="807.4" y="640.2" font-size="25" textLength="98.8" lengthAdjust="spacingAndGlyphs">No target</text>
<text x="809.1" y="668.1" font-size="25" textLength="261.5" lengthAdjust="spacingAndGlyphs">GO:0005737 cytoplasm</text>
<text x="807.4" y="704.6" font-size="25" textLength="87.2" lengthAdjust="spacingAndGlyphs">Nucleus</text>
<text x="807.4" y="729.2" font-size="25" textLength="147" lengthAdjust="spacingAndGlyphs">GO:0005634</text>
<text x="807.9" y="762.4" font-size="25" textLength="158.1" lengthAdjust="spacingAndGlyphs">Mitochondrion</text>
<text x="809.6" y="786.8" font-size="25" textLength="298.3" lengthAdjust="spacingAndGlyphs">GO:0005739 mitchondrion</text>
<text x="810.8" y="812.1" font-size="25" textLength="425.2" lengthAdjust="spacingAndGlyphs">GO:0031966 mitochondrial membrane</text>
<text x="811.6" y="845.3" font-size="25" textLength="411.4" lengthAdjust="spacingAndGlyphs">Endomembrane and secretory system</text>
<text x="810.8" y="872.5" font-size="25" textLength="403.9" lengthAdjust="spacingAndGlyphs">GO:0012505 endomembrane system</text>
<text x="810.8" y="897.4" font-size="25" textLength="412.2" lengthAdjust="spacingAndGlyphs">GO:0005886 plasma membrane (PM)</text>
<text x="809.9" y="922.8" font-size="25" textLength="354.2" lengthAdjust="spacingAndGlyphs">GO:0005615 extracellular space</text>
<text x="810.8" y="947.2" font-size="25" textLength="457.3" lengthAdjust="spacingAndGlyphs">GO:0046658 anchored component of PM</text>
<text x="810.8" y="972.1" font-size="25" textLength="379" lengthAdjust="spacingAndGlyphs">GO:0031090 organelle membrane</text>
<text x="1330.7" y="581.9" font-size="38.5" font-weight="bold" stroke="#000" stroke-width="1.5" stroke-linejoin="round">f</text>
<rect x="1731.5" y="632.2" width="152.84" height="37.3" fill="#005493" stroke="#000" stroke-width="3.4" />
<text x="1542.5" y="642.3" font-size="25" text-anchor="end" textLength="177.3" lengthAdjust="spacingAndGlyphs">Collagen trimer</text>
<text x="1542.5" y="668.4" font-size="25" text-anchor="end" textLength="161.7" lengthAdjust="spacingAndGlyphs">(GO:0005581)</text>
<rect x="1731.5" y="689.5" width="56.5" height="37.3" fill="#005493" stroke="#000" stroke-width="3.4" />
<text x="1542.5" y="699.6" font-size="25" text-anchor="end" textLength="215.5" lengthAdjust="spacingAndGlyphs">Extracellular space</text>
<text x="1542.5" y="725.7" font-size="25" text-anchor="end" textLength="162.1" lengthAdjust="spacingAndGlyphs">(GO:0005615)</text>
<rect x="1690.04" y="747.5" width="41.46" height="37.3" fill="#d9d9d9" stroke="#000" stroke-width="3.4" />
<text x="1542.5" y="757.6" font-size="25" text-anchor="end" textLength="120.2" lengthAdjust="spacingAndGlyphs">Cytoplasm</text>
<text x="1542.5" y="783.7" font-size="25" text-anchor="end" textLength="163" lengthAdjust="spacingAndGlyphs">(GO:0005737)</text>
<rect x="1668.9" y="804" width="62.6" height="37.3" fill="#0096ff" stroke="#000" stroke-width="3.4" />
<text x="1542.5" y="814.1" font-size="25" text-anchor="end" textLength="166.5" lengthAdjust="spacingAndGlyphs">Mitochondrion</text>
<text x="1542.5" y="840.2" font-size="25" text-anchor="end" textLength="167" lengthAdjust="spacingAndGlyphs">(GO:0005739)</text>
<rect x="1642.88" y="861.3" width="88.62" height="37.3" fill="#76d6ff" stroke="#000" stroke-width="3.4" />
<text x="1542.5" y="871.4" font-size="25" text-anchor="end" textLength="90" lengthAdjust="spacingAndGlyphs">Nucleus</text>
<text x="1542.5" y="897.5" font-size="25" text-anchor="end" textLength="169.4" lengthAdjust="spacingAndGlyphs">(GO:0005634)</text>
<rect x="1612.4" y="918.6" width="119.1" height="37.3" fill="#76d6ff" stroke="#000" stroke-width="3.4" />
<text x="1542.5" y="928.7" font-size="25" text-anchor="end" textLength="166.5" lengthAdjust="spacingAndGlyphs">Nuclear lumen</text>
<text x="1542.5" y="954.8" font-size="25" text-anchor="end" textLength="156.8" lengthAdjust="spacingAndGlyphs">(GO:0031981)</text>
<line x1="1731.5" y1="611.6" x2="1731.5" y2="975" stroke="#2a2a2a" stroke-width="1.4" />
<line x1="1569.3" y1="974.6" x2="1894.2" y2="974.6" stroke="#2a2a2a" stroke-width="1.4" />
<line x1="1568.9" y1="974.6" x2="1568.9" y2="989" stroke="#2a2a2a" stroke-width="1.4" />
<text x="1568.9" y="1019.4" font-size="24.3" text-anchor="middle">−4</text>
<line x1="1650.2" y1="974.6" x2="1650.2" y2="989" stroke="#2a2a2a" stroke-width="1.4" />
<text x="1650.2" y="1019.4" font-size="24.3" text-anchor="middle">−2</text>
<line x1="1731.5" y1="974.6" x2="1731.5" y2="989" stroke="#2a2a2a" stroke-width="1.4" />
<text x="1731.5" y="1019.4" font-size="24.3" text-anchor="middle">0</text>
<line x1="1812.8" y1="974.6" x2="1812.8" y2="989" stroke="#2a2a2a" stroke-width="1.4" />
<text x="1812.8" y="1019.4" font-size="24.3" text-anchor="middle">2</text>
<line x1="1894.1" y1="974.6" x2="1894.1" y2="989" stroke="#2a2a2a" stroke-width="1.4" />
<text x="1894.1" y="1019.4" font-size="24.3" text-anchor="middle">4</text>
<text x="1731.8" y="1057" font-size="25.3" text-anchor="middle" textLength="232" lengthAdjust="spacingAndGlyphs"><tspan>log</tspan><tspan font-size="17.2" dy="5.57">2</tspan><tspan dy="-5.57">(fold enrichment)</tspan></text>
<text x="1925.6" y="649.01" font-size="28.5" text-anchor="middle" textLength="37.9" lengthAdjust="spacingAndGlyphs">***</text>
<text x="1895" y="660" font-size="17" textLength="53" lengthAdjust="spacingAndGlyphs"><tspan font-size="13.6">&lt;</tspan>0.001</text>
<text x="1819.8" y="709.81" font-size="28.5" text-anchor="middle" textLength="11.1" lengthAdjust="spacingAndGlyphs">*</text>
<text x="1800" y="719.7" font-size="17" textLength="42.4" lengthAdjust="spacingAndGlyphs">0.012</text>
<text x="1658.2" y="765.61" font-size="28.5" text-anchor="middle" textLength="37.9" lengthAdjust="spacingAndGlyphs">***</text>
<text x="1628.6" y="775.6" font-size="17" textLength="52.7" lengthAdjust="spacingAndGlyphs"><tspan font-size="13.6">&lt;</tspan>0.001</text>
<text x="1630" y="822.11" font-size="28.5" text-anchor="middle" textLength="11.1" lengthAdjust="spacingAndGlyphs">*</text>
<text x="1607.9" y="831.8" font-size="17" textLength="46.5" lengthAdjust="spacingAndGlyphs">0.029</text>
<text x="1613.7" y="880.41" font-size="28.5" text-anchor="middle" textLength="37.9" lengthAdjust="spacingAndGlyphs">***</text>
<text x="1584" y="890" font-size="17" textLength="52.5" lengthAdjust="spacingAndGlyphs"><tspan font-size="13.6">&lt;</tspan>0.001</text>
<text x="1582.2" y="939.61" font-size="28.5" text-anchor="middle" textLength="24.8" lengthAdjust="spacingAndGlyphs">**</text>
<text x="1557.8" y="949.2" font-size="17" textLength="47.2" lengthAdjust="spacingAndGlyphs">0.002</text>
<text x="-0.8" y="1133.6" font-size="38.5" font-weight="bold" stroke="#000" stroke-width="1.5" stroke-linejoin="round">g</text>
<text x="282.2" y="1133.8" font-size="24.5" text-anchor="middle" font-style="italic" textLength="112.9" lengthAdjust="spacingAndGlyphs">cpl-1*::yfp</text>
<line x1="136.8" y1="1149" x2="426.8" y2="1149" stroke="#000" stroke-width="2.6" />
<line x1="140.6" y1="1171" x2="164.2" y2="1171" stroke="#000" stroke-width="8" stroke-linecap="round" />
<text x="174.8" y="1180.3" font-size="25.3" textLength="33.7" lengthAdjust="spacingAndGlyphs">WT</text>
<line x1="235.8" y1="1169.7" x2="259" y2="1169.7" stroke="#00a99d" stroke-width="8" stroke-linecap="round" />
<text x="271" y="1177.6" font-size="25.3" font-style="italic" textLength="136" lengthAdjust="spacingAndGlyphs">rde-1(ne219)</text>
<line x1="102.3" y1="1188.8" x2="102.3" y2="1515" stroke="#2a2a2a" stroke-width="1.4" />
<line x1="102.3" y1="1515" x2="428.2" y2="1515" stroke="#555" stroke-width="1.4" />
<line x1="88.3" y1="1188.8" x2="102.3" y2="1188.8" stroke="#2a2a2a" stroke-width="1.4" />
<text x="76.3" y="1196.2" font-size="20.8" text-anchor="end">2</text>
<line x1="88.3" y1="1270.35" x2="102.3" y2="1270.35" stroke="#2a2a2a" stroke-width="1.4" />
<text x="76.3" y="1277.75" font-size="20.8" text-anchor="end">0</text>
<line x1="88.3" y1="1351.9" x2="102.3" y2="1351.9" stroke="#2a2a2a" stroke-width="1.4" />
<text x="76.3" y="1359.3" font-size="20.8" text-anchor="end">−2</text>
<line x1="88.3" y1="1433.45" x2="102.3" y2="1433.45" stroke="#2a2a2a" stroke-width="1.4" />
<text x="76.3" y="1440.85" font-size="20.8" text-anchor="end">−4</text>
<line x1="88.3" y1="1515" x2="102.3" y2="1515" stroke="#2a2a2a" stroke-width="1.4" />
<text x="76.3" y="1522.4" font-size="20.8" text-anchor="end">−6</text>
<line x1="102.3" y1="1515" x2="102.3" y2="1528" stroke="#2a2a2a" stroke-width="1.4" />
<text x="102.3" y="1557" font-size="20.8" text-anchor="middle">0</text>
<line x1="210.93" y1="1515" x2="210.93" y2="1528" stroke="#2a2a2a" stroke-width="1.4" />
<text x="210.93" y="1557" font-size="20.8" text-anchor="middle">100</text>
<line x1="319.57" y1="1515" x2="319.57" y2="1528" stroke="#2a2a2a" stroke-width="1.4" />
<text x="319.57" y="1557" font-size="20.8" text-anchor="middle">200</text>
<line x1="428.2" y1="1515" x2="428.2" y2="1528" stroke="#2a2a2a" stroke-width="1.4" />
<text x="428.2" y="1557" font-size="20.8" text-anchor="middle">300</text>
<text x="270.3" y="1593.1" font-size="25.3" text-anchor="middle" textLength="181.7" lengthAdjust="spacingAndGlyphs"><tspan>α-Amanitin (min)</tspan></text>
<text x="0" y="0" font-size="25.3" text-anchor="middle" textLength="244" lengthAdjust="spacingAndGlyphs" transform="translate(29.3,1355.5) rotate(-90)"><tspan>log</tspan><tspan font-size="17.2" dy="5.57">2</tspan><tspan dy="-5.57">(</tspan><tspan font-style="italic">sqt-1</tspan><tspan> mRNA level)</tspan></text>
<line x1="200.07" y1="1281.97" x2="200.07" y2="1265.66" stroke="#00a99d" stroke-width="2.6" />
<line x1="193.37" y1="1281.97" x2="206.77" y2="1281.97" stroke="#00a99d" stroke-width="2.6" />
<line x1="193.37" y1="1265.66" x2="206.77" y2="1265.66" stroke="#00a99d" stroke-width="2.6" />
<line x1="297.84" y1="1304.6" x2="297.84" y2="1267.9" stroke="#00a99d" stroke-width="2.6" />
<line x1="291.14" y1="1304.6" x2="304.54" y2="1304.6" stroke="#00a99d" stroke-width="2.6" />
<line x1="291.14" y1="1267.9" x2="304.54" y2="1267.9" stroke="#00a99d" stroke-width="2.6" />
<line x1="428.2" y1="1322.54" x2="428.2" y2="1297.26" stroke="#00a99d" stroke-width="2.6" />
<line x1="421.5" y1="1322.54" x2="434.9" y2="1322.54" stroke="#00a99d" stroke-width="2.6" />
<line x1="421.5" y1="1297.26" x2="434.9" y2="1297.26" stroke="#00a99d" stroke-width="2.6" />
<polyline points="102.3,1270.35 200.07,1273.82 297.84,1286.25 428.2,1309.9" fill="none" stroke="#00a99d" stroke-width="3" stroke-linejoin="round"/>
<circle cx="102.3" cy="1270.35" r="5.6" fill="#00a99d" />
<circle cx="200.07" cy="1273.82" r="5.6" fill="#00a99d" />
<circle cx="297.84" cy="1286.25" r="5.6" fill="#00a99d" />
<circle cx="428.2" cy="1309.9" r="5.6" fill="#00a99d" />
<line x1="200.07" y1="1334.16" x2="200.07" y2="1321.93" stroke="#000" stroke-width="2.6" />
<line x1="193.37" y1="1334.16" x2="206.77" y2="1334.16" stroke="#000" stroke-width="2.6" />
<line x1="193.37" y1="1321.93" x2="206.77" y2="1321.93" stroke="#000" stroke-width="2.6" />
<line x1="297.84" y1="1364.74" x2="297.84" y2="1328.86" stroke="#000" stroke-width="2.6" />
<line x1="291.14" y1="1364.74" x2="304.54" y2="1364.74" stroke="#000" stroke-width="2.6" />
<line x1="291.14" y1="1328.86" x2="304.54" y2="1328.86" stroke="#000" stroke-width="2.6" />
<line x1="428.2" y1="1476.26" x2="428.2" y2="1397.98" stroke="#000" stroke-width="2.6" />
<line x1="421.5" y1="1476.26" x2="434.9" y2="1476.26" stroke="#000" stroke-width="2.6" />
<line x1="421.5" y1="1397.98" x2="434.9" y2="1397.98" stroke="#000" stroke-width="2.6" />
<polyline points="102.3,1270.35 200.07,1328.05 297.84,1346.8 428.2,1437.12" fill="none" stroke="#000" stroke-width="3" stroke-linejoin="round"/>
<circle cx="102.3" cy="1270.35" r="5.6" fill="#000" />
<circle cx="200.07" cy="1328.05" r="5.6" fill="#000" />
<circle cx="297.84" cy="1346.8" r="5.6" fill="#000" />
<circle cx="428.2" cy="1437.12" r="5.6" fill="#000" />
<text x="200.5" y="1355.6" font-size="17" text-anchor="middle" textLength="21.5" lengthAdjust="spacingAndGlyphs">NS</text>
<text x="200.5" y="1373.7" font-size="17" text-anchor="middle" textLength="34.4" lengthAdjust="spacingAndGlyphs">0.17</text>
<text x="297.5" y="1388.8" font-size="17" text-anchor="middle" textLength="21.5" lengthAdjust="spacingAndGlyphs">NS</text>
<text x="297.5" y="1406.6" font-size="17" text-anchor="middle" textLength="34.4" lengthAdjust="spacingAndGlyphs">0.09</text>
<text x="396.7" y="1451.61" font-size="28.5" text-anchor="middle" textLength="37.9" lengthAdjust="spacingAndGlyphs">***</text>
<text x="366.5" y="1461.8" font-size="17" textLength="52.5" lengthAdjust="spacingAndGlyphs"><tspan font-size="13.6">&lt;</tspan>0.001</text>
<text x="485.8" y="1132.5" font-size="38.5" font-weight="bold" stroke="#000" stroke-width="1.5" stroke-linejoin="round">h</text>
<text x="758.9" y="1133.8" font-size="24.5" text-anchor="middle" font-style="italic" textLength="112.6" lengthAdjust="spacingAndGlyphs">cpl-1*::yfp</text>
<line x1="613.3" y1="1148.4" x2="903.7" y2="1148.4" stroke="#000" stroke-width="2.6" />
<line x1="617.6" y1="1171" x2="640.7" y2="1171" stroke="#000" stroke-width="8" stroke-linecap="round" />
<text x="652" y="1180.3" font-size="25.3" textLength="33" lengthAdjust="spacingAndGlyphs">WT</text>
<line x1="712.3" y1="1169.7" x2="735.6" y2="1169.7" stroke="#00a99d" stroke-width="8" stroke-linecap="round" />
<text x="747.7" y="1177.6" font-size="25.3" font-style="italic" textLength="136" lengthAdjust="spacingAndGlyphs">rde-1(ne219)</text>
<line x1="579.6" y1="1187.5" x2="579.6" y2="1513.6" stroke="#2a2a2a" stroke-width="1.4" />
<line x1="579.6" y1="1513.6" x2="905.5" y2="1513.6" stroke="#555" stroke-width="1.4" />
<line x1="565.6" y1="1187.5" x2="579.6" y2="1187.5" stroke="#2a2a2a" stroke-width="1.4" />
<text x="553.6" y="1194.9" font-size="20.8" text-anchor="end">2</text>
<line x1="565.6" y1="1269.03" x2="579.6" y2="1269.03" stroke="#2a2a2a" stroke-width="1.4" />
<text x="553.6" y="1276.43" font-size="20.8" text-anchor="end">0</text>
<line x1="565.6" y1="1350.55" x2="579.6" y2="1350.55" stroke="#2a2a2a" stroke-width="1.4" />
<text x="553.6" y="1357.95" font-size="20.8" text-anchor="end">−2</text>
<line x1="565.6" y1="1432.07" x2="579.6" y2="1432.07" stroke="#2a2a2a" stroke-width="1.4" />
<text x="553.6" y="1439.47" font-size="20.8" text-anchor="end">−4</text>
<line x1="565.6" y1="1513.6" x2="579.6" y2="1513.6" stroke="#2a2a2a" stroke-width="1.4" />
<text x="553.6" y="1521" font-size="20.8" text-anchor="end">−6</text>
<line x1="579.6" y1="1513.6" x2="579.6" y2="1526.6" stroke="#2a2a2a" stroke-width="1.4" />
<text x="579.6" y="1554.9" font-size="20.8" text-anchor="middle">0</text>
<line x1="688.23" y1="1513.6" x2="688.23" y2="1526.6" stroke="#2a2a2a" stroke-width="1.4" />
<text x="688.23" y="1554.9" font-size="20.8" text-anchor="middle">100</text>
<line x1="796.87" y1="1513.6" x2="796.87" y2="1526.6" stroke="#2a2a2a" stroke-width="1.4" />
<text x="796.87" y="1554.9" font-size="20.8" text-anchor="middle">200</text>
<line x1="905.5" y1="1513.6" x2="905.5" y2="1526.6" stroke="#2a2a2a" stroke-width="1.4" />
<text x="905.5" y="1554.9" font-size="20.8" text-anchor="middle">300</text>
<text x="752" y="1593.8" font-size="25.3" text-anchor="middle" textLength="181.7" lengthAdjust="spacingAndGlyphs"><tspan>α-Amanitin (min)</tspan></text>
<text x="0" y="0" font-size="25.3" text-anchor="middle" textLength="246.7" lengthAdjust="spacingAndGlyphs" transform="translate(507.1,1354.8) rotate(-90)"><tspan>log</tspan><tspan font-size="17.2" dy="5.57">2</tspan><tspan dy="-5.57">(</tspan><tspan font-style="italic">rol-6</tspan><tspan> mRNA level)</tspan></text>
<line x1="677.37" y1="1277.99" x2="677.37" y2="1262.5" stroke="#00a99d" stroke-width="2.6" />
<line x1="670.67" y1="1277.99" x2="684.07" y2="1277.99" stroke="#00a99d" stroke-width="2.6" />
<line x1="670.67" y1="1262.5" x2="684.07" y2="1262.5" stroke="#00a99d" stroke-width="2.6" />
<line x1="775.14" y1="1302.04" x2="775.14" y2="1258.83" stroke="#00a99d" stroke-width="2.6" />
<line x1="768.44" y1="1302.04" x2="781.84" y2="1302.04" stroke="#00a99d" stroke-width="2.6" />
<line x1="768.44" y1="1258.83" x2="781.84" y2="1258.83" stroke="#00a99d" stroke-width="2.6" />
<line x1="905.5" y1="1322.42" x2="905.5" y2="1283.29" stroke="#00a99d" stroke-width="2.6" />
<line x1="898.8" y1="1322.42" x2="912.2" y2="1322.42" stroke="#00a99d" stroke-width="2.6" />
<line x1="898.8" y1="1283.29" x2="912.2" y2="1283.29" stroke="#00a99d" stroke-width="2.6" />
<polyline points="579.6,1269.03 677.37,1270.25 775.14,1280.44 905.5,1302.86" fill="none" stroke="#00a99d" stroke-width="3" stroke-linejoin="round"/>
<circle cx="579.6" cy="1269.03" r="5.6" fill="#00a99d" />
<circle cx="677.37" cy="1270.25" r="5.6" fill="#00a99d" />
<circle cx="775.14" cy="1280.44" r="5.6" fill="#00a99d" />
<circle cx="905.5" cy="1302.86" r="5.6" fill="#00a99d" />
<line x1="677.37" y1="1330.17" x2="677.37" y2="1291.85" stroke="#000" stroke-width="2.6" />
<line x1="670.67" y1="1330.17" x2="684.07" y2="1330.17" stroke="#000" stroke-width="2.6" />
<line x1="670.67" y1="1291.85" x2="684.07" y2="1291.85" stroke="#000" stroke-width="2.6" />
<line x1="775.14" y1="1349.33" x2="775.14" y2="1313.46" stroke="#000" stroke-width="2.6" />
<line x1="768.44" y1="1349.33" x2="781.84" y2="1349.33" stroke="#000" stroke-width="2.6" />
<line x1="768.44" y1="1313.46" x2="781.84" y2="1313.46" stroke="#000" stroke-width="2.6" />
<line x1="905.5" y1="1456.12" x2="905.5" y2="1363.19" stroke="#000" stroke-width="2.6" />
<line x1="898.8" y1="1456.12" x2="912.2" y2="1456.12" stroke="#000" stroke-width="2.6" />
<line x1="898.8" y1="1363.19" x2="912.2" y2="1363.19" stroke="#000" stroke-width="2.6" />
<polyline points="579.6,1269.03 677.37,1311.01 775.14,1331.39 905.5,1409.66" fill="none" stroke="#000" stroke-width="3" stroke-linejoin="round"/>
<circle cx="579.6" cy="1269.03" r="5.6" fill="#000" />
<circle cx="677.37" cy="1311.01" r="5.6" fill="#000" />
<circle cx="775.14" cy="1331.39" r="5.6" fill="#000" />
<circle cx="905.5" cy="1409.66" r="5.6" fill="#000" />
<text x="677" y="1352.4" font-size="17" text-anchor="middle" textLength="21.5" lengthAdjust="spacingAndGlyphs">NS</text>
<text x="677" y="1370.2" font-size="17" text-anchor="middle" textLength="34.4" lengthAdjust="spacingAndGlyphs">0.58</text>
<text x="774.8" y="1371.5" font-size="17" text-anchor="middle" textLength="21.5" lengthAdjust="spacingAndGlyphs">NS</text>
<text x="774.8" y="1389.3" font-size="17" text-anchor="middle" textLength="34.4" lengthAdjust="spacingAndGlyphs">0.39</text>
<text x="875.8" y="1425.61" font-size="28.5" text-anchor="middle" textLength="11.1" lengthAdjust="spacingAndGlyphs">*</text>
<text x="875.9" y="1435.8" font-size="17" text-anchor="middle" textLength="33.2" lengthAdjust="spacingAndGlyphs">0.01</text>
<text x="964" y="1131.7" font-size="38.5" font-weight="bold" stroke="#000" stroke-width="1.5" stroke-linejoin="round">i</text>
<text x="1242.2" y="1133.8" font-size="24.5" text-anchor="middle" font-style="italic" textLength="112.9" lengthAdjust="spacingAndGlyphs">cpl-1*::yfp</text>
<line x1="1096.8" y1="1147.1" x2="1387.6" y2="1147.1" stroke="#000" stroke-width="2.6" />
<line x1="1100.6" y1="1173.7" x2="1124.7" y2="1173.7" stroke="#000" stroke-width="8" stroke-linecap="round" />
<text x="1134.8" y="1182.4" font-size="25.3" textLength="34.5" lengthAdjust="spacingAndGlyphs">WT</text>
<line x1="1195.8" y1="1172.3" x2="1219" y2="1172.3" stroke="#00a99d" stroke-width="8" stroke-linecap="round" />
<text x="1231" y="1180.3" font-size="25.3" font-style="italic" textLength="136.7" lengthAdjust="spacingAndGlyphs">rde-1(ne219)</text>
<line x1="1076.3" y1="1187.7" x2="1076.3" y2="1513.6" stroke="#2a2a2a" stroke-width="1.4" />
<line x1="1076.3" y1="1513.6" x2="1402.2" y2="1513.6" stroke="#555" stroke-width="1.4" />
<line x1="1062.3" y1="1187.7" x2="1076.3" y2="1187.7" stroke="#2a2a2a" stroke-width="1.4" />
<text x="1050.3" y="1195.1" font-size="20.8" text-anchor="end">0.5</text>
<line x1="1062.3" y1="1296.33" x2="1076.3" y2="1296.33" stroke="#2a2a2a" stroke-width="1.4" />
<text x="1050.3" y="1303.73" font-size="20.8" text-anchor="end">0</text>
<line x1="1062.3" y1="1404.97" x2="1076.3" y2="1404.97" stroke="#2a2a2a" stroke-width="1.4" />
<text x="1050.3" y="1412.37" font-size="20.8" text-anchor="end">−0.5</text>
<line x1="1062.3" y1="1513.6" x2="1076.3" y2="1513.6" stroke="#2a2a2a" stroke-width="1.4" />
<text x="1050.3" y="1521" font-size="20.8" text-anchor="end">−1.0</text>
<line x1="1076.3" y1="1513.6" x2="1076.3" y2="1526.6" stroke="#2a2a2a" stroke-width="1.4" />
<text x="1076.3" y="1554.9" font-size="20.8" text-anchor="middle">0</text>
<line x1="1184.93" y1="1513.6" x2="1184.93" y2="1526.6" stroke="#2a2a2a" stroke-width="1.4" />
<text x="1184.93" y="1554.9" font-size="20.8" text-anchor="middle">100</text>
<line x1="1293.57" y1="1513.6" x2="1293.57" y2="1526.6" stroke="#2a2a2a" stroke-width="1.4" />
<text x="1293.57" y="1554.9" font-size="20.8" text-anchor="middle">200</text>
<line x1="1402.2" y1="1513.6" x2="1402.2" y2="1526.6" stroke="#2a2a2a" stroke-width="1.4" />
<text x="1402.2" y="1554.9" font-size="20.8" text-anchor="middle">300</text>
<text x="1242.5" y="1593.8" font-size="25.3" text-anchor="middle" textLength="181.7" lengthAdjust="spacingAndGlyphs"><tspan>α-Amanitin (min)</tspan></text>
<text x="0" y="0" font-size="25.3" text-anchor="middle" textLength="259" lengthAdjust="spacingAndGlyphs" transform="translate(984.4,1349.4) rotate(-90)"><tspan>log</tspan><tspan font-size="17.2" dy="5.57">2</tspan><tspan dy="-5.57">(</tspan><tspan font-style="italic">asp-12</tspan><tspan> mRNA level)</tspan></text>
<line x1="1174.07" y1="1301.11" x2="1174.07" y2="1201.17" stroke="#00a99d" stroke-width="2.6" />
<line x1="1167.37" y1="1301.11" x2="1180.77" y2="1301.11" stroke="#00a99d" stroke-width="2.6" />
<line x1="1167.37" y1="1201.17" x2="1180.77" y2="1201.17" stroke="#00a99d" stroke-width="2.6" />
<line x1="1271.84" y1="1302.85" x2="1271.84" y2="1256.79" stroke="#00a99d" stroke-width="2.6" />
<line x1="1265.14" y1="1302.85" x2="1278.54" y2="1302.85" stroke="#00a99d" stroke-width="2.6" />
<line x1="1265.14" y1="1256.79" x2="1278.54" y2="1256.79" stroke="#00a99d" stroke-width="2.6" />
<line x1="1402.2" y1="1308.5" x2="1402.2" y2="1258.09" stroke="#00a99d" stroke-width="2.6" />
<line x1="1395.5" y1="1308.5" x2="1408.9" y2="1308.5" stroke="#00a99d" stroke-width="2.6" />
<line x1="1395.5" y1="1258.09" x2="1408.9" y2="1258.09" stroke="#00a99d" stroke-width="2.6" />
<polyline points="1076.3,1296.33 1174.07,1251.14 1271.84,1279.82 1402.2,1283.3" fill="none" stroke="#00a99d" stroke-width="3" stroke-linejoin="round"/>
<circle cx="1076.3" cy="1296.33" r="5.6" fill="#00a99d" />
<circle cx="1174.07" cy="1251.14" r="5.6" fill="#00a99d" />
<circle cx="1271.84" cy="1279.82" r="5.6" fill="#00a99d" />
<circle cx="1402.2" cy="1283.3" r="5.6" fill="#00a99d" />
<line x1="1174.07" y1="1373.9" x2="1174.07" y2="1330.44" stroke="#000" stroke-width="2.6" />
<line x1="1167.37" y1="1373.9" x2="1180.77" y2="1373.9" stroke="#000" stroke-width="2.6" />
<line x1="1167.37" y1="1330.44" x2="1180.77" y2="1330.44" stroke="#000" stroke-width="2.6" />
<line x1="1271.84" y1="1401.71" x2="1271.84" y2="1364.77" stroke="#000" stroke-width="2.6" />
<line x1="1265.14" y1="1401.71" x2="1278.54" y2="1401.71" stroke="#000" stroke-width="2.6" />
<line x1="1265.14" y1="1364.77" x2="1278.54" y2="1364.77" stroke="#000" stroke-width="2.6" />
<line x1="1402.2" y1="1434.73" x2="1402.2" y2="1360.86" stroke="#000" stroke-width="2.6" />
<line x1="1395.5" y1="1434.73" x2="1408.9" y2="1434.73" stroke="#000" stroke-width="2.6" />
<line x1="1395.5" y1="1360.86" x2="1408.9" y2="1360.86" stroke="#000" stroke-width="2.6" />
<polyline points="1076.3,1296.33 1174.07,1352.17 1271.84,1383.24 1402.2,1397.8" fill="none" stroke="#000" stroke-width="3" stroke-linejoin="round"/>
<circle cx="1076.3" cy="1296.33" r="5.6" fill="#000" />
<circle cx="1174.07" cy="1352.17" r="5.6" fill="#000" />
<circle cx="1271.84" cy="1383.24" r="5.6" fill="#000" />
<circle cx="1402.2" cy="1397.8" r="5.6" fill="#000" />
<text x="1173.8" y="1401.61" font-size="28.5" text-anchor="middle" textLength="11.1" lengthAdjust="spacingAndGlyphs">*</text>
<text x="1271.5" y="1427.11" font-size="28.5" text-anchor="middle" textLength="11.1" lengthAdjust="spacingAndGlyphs">*</text>
<text x="1402.2" y="1459.61" font-size="28.5" text-anchor="middle" textLength="11.1" lengthAdjust="spacingAndGlyphs">*</text>
<text x="1173.8" y="1411.4" font-size="17" text-anchor="middle" textLength="37" lengthAdjust="spacingAndGlyphs">0.04</text>
<text x="1271.5" y="1436.6" font-size="17" text-anchor="middle" textLength="37" lengthAdjust="spacingAndGlyphs">0.03</text>
<text x="1402.2" y="1470.4" font-size="17" text-anchor="middle" textLength="37" lengthAdjust="spacingAndGlyphs">0.02</text>
<text x="1459.2" y="1132.5" font-size="38.5" font-weight="bold" stroke="#000" stroke-width="1.5" stroke-linejoin="round">j</text>
<text x="1754" y="1133.8" font-size="24.5" text-anchor="middle" font-style="italic" textLength="112.9" lengthAdjust="spacingAndGlyphs">cpl-1*::yfp</text>
<line x1="1608.7" y1="1149" x2="1899" y2="1149" stroke="#000" stroke-width="2.6" />
<line x1="1612.6" y1="1175" x2="1636.1" y2="1175" stroke="#000" stroke-width="8" stroke-linecap="round" />
<text x="1647.2" y="1184.3" font-size="25.3" textLength="33.2" lengthAdjust="spacingAndGlyphs">WT</text>
<line x1="1707.4" y1="1174.2" x2="1730.9" y2="1174.2" stroke="#00a99d" stroke-width="8" stroke-linecap="round" />
<text x="1742.8" y="1182.1" font-size="25.3" font-style="italic" textLength="136.8" lengthAdjust="spacingAndGlyphs">rde-1(ne219)</text>
<line x1="1569.6" y1="1187.7" x2="1569.6" y2="1514.2" stroke="#2a2a2a" stroke-width="1.4" />
<line x1="1569.6" y1="1514.2" x2="1895.8" y2="1514.2" stroke="#555" stroke-width="1.4" />
<line x1="1555.6" y1="1187.7" x2="1569.6" y2="1187.7" stroke="#2a2a2a" stroke-width="1.4" />
<text x="1543.6" y="1195.1" font-size="20.8" text-anchor="end">0.5</text>
<line x1="1555.6" y1="1296.53" x2="1569.6" y2="1296.53" stroke="#2a2a2a" stroke-width="1.4" />
<text x="1543.6" y="1303.93" font-size="20.8" text-anchor="end">0</text>
<line x1="1555.6" y1="1405.37" x2="1569.6" y2="1405.37" stroke="#2a2a2a" stroke-width="1.4" />
<text x="1543.6" y="1412.77" font-size="20.8" text-anchor="end">−0.5</text>
<line x1="1555.6" y1="1514.2" x2="1569.6" y2="1514.2" stroke="#2a2a2a" stroke-width="1.4" />
<text x="1543.6" y="1521.6" font-size="20.8" text-anchor="end">−1.0</text>
<line x1="1569.6" y1="1514.2" x2="1569.6" y2="1527.2" stroke="#2a2a2a" stroke-width="1.4" />
<text x="1569.6" y="1554.9" font-size="20.8" text-anchor="middle">0</text>
<line x1="1678.33" y1="1514.2" x2="1678.33" y2="1527.2" stroke="#2a2a2a" stroke-width="1.4" />
<text x="1678.33" y="1554.9" font-size="20.8" text-anchor="middle">100</text>
<line x1="1787.07" y1="1514.2" x2="1787.07" y2="1527.2" stroke="#2a2a2a" stroke-width="1.4" />
<text x="1787.07" y="1554.9" font-size="20.8" text-anchor="middle">200</text>
<line x1="1895.8" y1="1514.2" x2="1895.8" y2="1527.2" stroke="#2a2a2a" stroke-width="1.4" />
<text x="1895.8" y="1554.9" font-size="20.8" text-anchor="middle">300</text>
<text x="1736" y="1593.8" font-size="25.3" text-anchor="middle" textLength="181.7" lengthAdjust="spacingAndGlyphs"><tspan>α-Amanitin (min)</tspan></text>
<text x="0" y="0" font-size="25.3" text-anchor="middle" textLength="249.4" lengthAdjust="spacingAndGlyphs" transform="translate(1481.1,1349.2) rotate(-90)"><tspan>log</tspan><tspan font-size="17.2" dy="5.57">2</tspan><tspan dy="-5.57">(</tspan><tspan font-style="italic">pas-7</tspan><tspan> mRNA level)</tspan></text>
<line x1="1667.46" y1="1304.37" x2="1667.46" y2="1295.66" stroke="#00a99d" stroke-width="2.6" />
<line x1="1660.76" y1="1304.37" x2="1674.16" y2="1304.37" stroke="#00a99d" stroke-width="2.6" />
<line x1="1660.76" y1="1295.66" x2="1674.16" y2="1295.66" stroke="#00a99d" stroke-width="2.6" />
<line x1="1765.32" y1="1369.45" x2="1765.32" y2="1325.92" stroke="#00a99d" stroke-width="2.6" />
<line x1="1758.62" y1="1369.45" x2="1772.02" y2="1369.45" stroke="#00a99d" stroke-width="2.6" />
<line x1="1758.62" y1="1325.92" x2="1772.02" y2="1325.92" stroke="#00a99d" stroke-width="2.6" />
<line x1="1895.8" y1="1374.89" x2="1895.8" y2="1315.25" stroke="#00a99d" stroke-width="2.6" />
<line x1="1889.1" y1="1374.89" x2="1902.5" y2="1374.89" stroke="#00a99d" stroke-width="2.6" />
<line x1="1889.1" y1="1315.25" x2="1902.5" y2="1315.25" stroke="#00a99d" stroke-width="2.6" />
<polyline points="1569.6,1296.53 1667.46,1300.02 1765.32,1347.68 1895.8,1345.07" fill="none" stroke="#00a99d" stroke-width="3" stroke-linejoin="round"/>
<circle cx="1569.6" cy="1296.53" r="5.6" fill="#00a99d" />
<circle cx="1667.46" cy="1300.02" r="5.6" fill="#00a99d" />
<circle cx="1765.32" cy="1347.68" r="5.6" fill="#00a99d" />
<circle cx="1895.8" cy="1345.07" r="5.6" fill="#00a99d" />
<line x1="1667.46" y1="1298.06" x2="1667.46" y2="1237.11" stroke="#000" stroke-width="2.6" />
<line x1="1660.76" y1="1298.06" x2="1674.16" y2="1298.06" stroke="#000" stroke-width="2.6" />
<line x1="1660.76" y1="1237.11" x2="1674.16" y2="1237.11" stroke="#000" stroke-width="2.6" />
<line x1="1765.32" y1="1397.97" x2="1765.32" y2="1323.96" stroke="#000" stroke-width="2.6" />
<line x1="1758.62" y1="1397.97" x2="1772.02" y2="1397.97" stroke="#000" stroke-width="2.6" />
<line x1="1758.62" y1="1323.96" x2="1772.02" y2="1323.96" stroke="#000" stroke-width="2.6" />
<polyline points="1569.6,1296.53 1667.46,1267.58 1765.32,1360.96 1895.8,1359.66" fill="none" stroke="#000" stroke-width="3" stroke-linejoin="round"/>
<circle cx="1569.6" cy="1296.53" r="5.6" fill="#000" />
<circle cx="1667.46" cy="1267.58" r="5.6" fill="#000" />
<circle cx="1765.32" cy="1360.96" r="5.6" fill="#000" />
<circle cx="1895.8" cy="1359.66" r="5.6" fill="#000" />
<text x="1667" y="1322.4" font-size="17" text-anchor="middle" textLength="21.5" lengthAdjust="spacingAndGlyphs">NS</text>
<text x="1667" y="1339.7" font-size="17" text-anchor="middle" textLength="34.4" lengthAdjust="spacingAndGlyphs">0.78</text>
<text x="1729.5" y="1365.7" font-size="17" text-anchor="middle" textLength="21.5" lengthAdjust="spacingAndGlyphs">NS</text>
<text x="1729.5" y="1382.2" font-size="17" text-anchor="middle" textLength="34.4" lengthAdjust="spacingAndGlyphs">0.99</text>
<text x="1865.5" y="1382.2" font-size="17" text-anchor="middle" textLength="21.5" lengthAdjust="spacingAndGlyphs">NS</text>
<text x="1865.5" y="1398.6" font-size="17" text-anchor="middle" textLength="34.4" lengthAdjust="spacingAndGlyphs">0.98</text>
<text x="12.8" y="1666.7" font-size="38.5" font-weight="bold" stroke="#000" stroke-width="1.5" stroke-linejoin="round">k</text>
<text x="227" y="1670.8" font-size="25.3" text-anchor="end" textLength="34" lengthAdjust="spacingAndGlyphs">WT</text>
<text x="227" y="1705.1" font-size="25.3" text-anchor="end" font-style="italic" textLength="136" lengthAdjust="spacingAndGlyphs">rde-1(ne219)</text>
<text x="227" y="1739.3" font-size="25.3" text-anchor="end" font-style="italic" textLength="157.5" lengthAdjust="spacingAndGlyphs">drh-1(ok3495)</text>
<text x="227" y="1773.5" font-size="25.3" text-anchor="end" font-style="italic" textLength="142" lengthAdjust="spacingAndGlyphs">sel-11(nDf59)</text>
<circle cx="270.9" cy="1658.6" r="11.1" fill="#a6a6a6" stroke="#000" stroke-width="2.6" />
<circle cx="270.9" cy="1694.2" r="11.1" fill="#fff" stroke="#000" stroke-width="2.6" />
<circle cx="270.9" cy="1730.3" r="11.1" fill="#fff" stroke="#000" stroke-width="2.6" />
<circle cx="270.9" cy="1765.7" r="11.1" fill="#fff" stroke="#000" stroke-width="2.6" />
<circle cx="341.7" cy="1658.6" r="11.1" fill="#fff" stroke="#000" stroke-width="2.6" />
<circle cx="341.7" cy="1694.2" r="11.1" fill="#00a99d" stroke="#000" stroke-width="2.6" />
<circle cx="341.7" cy="1730.3" r="11.1" fill="#fff" stroke="#000" stroke-width="2.6" />
<circle cx="341.7" cy="1765.7" r="11.1" fill="#fff" stroke="#000" stroke-width="2.6" />
<circle cx="411.1" cy="1658.6" r="11.1" fill="#fff" stroke="#000" stroke-width="2.6" />
<circle cx="411.1" cy="1694.2" r="11.1" fill="#fff" stroke="#000" stroke-width="2.6" />
<circle cx="411.1" cy="1730.3" r="11.1" fill="#6b3a96" stroke="#000" stroke-width="2.6" />
<circle cx="411.1" cy="1765.7" r="11.1" fill="#fff" stroke="#000" stroke-width="2.6" />
<circle cx="480.1" cy="1658.6" r="11.1" fill="#fff" stroke="#000" stroke-width="2.6" />
<circle cx="480.1" cy="1694.2" r="11.1" fill="#fff" stroke="#000" stroke-width="2.6" />
<circle cx="480.1" cy="1730.3" r="11.1" fill="#fff" stroke="#000" stroke-width="2.6" />
<circle cx="480.1" cy="1765.7" r="11.1" fill="#000" stroke="#000" stroke-width="2.6" />
<circle cx="561.3" cy="1658.6" r="11.1" fill="#a6a6a6" stroke="#000" stroke-width="2.6" />
<circle cx="561.3" cy="1694.2" r="11.1" fill="#fff" stroke="#000" stroke-width="2.6" />
<circle cx="561.3" cy="1730.3" r="11.1" fill="#fff" stroke="#000" stroke-width="2.6" />
<circle cx="561.3" cy="1765.7" r="11.1" fill="#fff" stroke="#000" stroke-width="2.6" />
<circle cx="632.1" cy="1658.6" r="11.1" fill="#fff" stroke="#000" stroke-width="2.6" />
<circle cx="632.1" cy="1694.2" r="11.1" fill="#00a99d" stroke="#000" stroke-width="2.6" />
<circle cx="632.1" cy="1730.3" r="11.1" fill="#fff" stroke="#000" stroke-width="2.6" />
<circle cx="632.1" cy="1765.7" r="11.1" fill="#fff" stroke="#000" stroke-width="2.6" />
<circle cx="701.6" cy="1658.6" r="11.1" fill="#fff" stroke="#000" stroke-width="2.6" />
<circle cx="701.6" cy="1694.2" r="11.1" fill="#fff" stroke="#000" stroke-width="2.6" />
<circle cx="701.6" cy="1730.3" r="11.1" fill="#6b3a96" stroke="#000" stroke-width="2.6" />
<circle cx="701.6" cy="1765.7" r="11.1" fill="#fff" stroke="#000" stroke-width="2.6" />
<circle cx="770.5" cy="1658.6" r="11.1" fill="#fff" stroke="#000" stroke-width="2.6" />
<circle cx="770.5" cy="1694.2" r="11.1" fill="#fff" stroke="#000" stroke-width="2.6" />
<circle cx="770.5" cy="1730.3" r="11.1" fill="#fff" stroke="#000" stroke-width="2.6" />
<circle cx="770.5" cy="1765.7" r="11.1" fill="#000" stroke="#000" stroke-width="2.6" />
<line x1="201" y1="1818.6" x2="201" y2="2144" stroke="#2a2a2a" stroke-width="1.4" />
<line x1="186.5" y1="1818.6" x2="201" y2="1818.6" stroke="#2a2a2a" stroke-width="1.4" />
<text x="174.7" y="1826" font-size="20.8" text-anchor="end">4</text>
<line x1="186.5" y1="1883.7" x2="201" y2="1883.7" stroke="#2a2a2a" stroke-width="1.4" />
<text x="174.7" y="1891.1" font-size="20.8" text-anchor="end">2</text>
<line x1="186.5" y1="1948.8" x2="201" y2="1948.8" stroke="#2a2a2a" stroke-width="1.4" />
<text x="174.7" y="1956.2" font-size="20.8" text-anchor="end">0</text>
<line x1="186.5" y1="2013.9" x2="201" y2="2013.9" stroke="#2a2a2a" stroke-width="1.4" />
<text x="174.7" y="2021.3" font-size="20.8" text-anchor="end">−2</text>
<line x1="186.5" y1="2079" x2="201" y2="2079" stroke="#2a2a2a" stroke-width="1.4" />
<text x="174.7" y="2086.4" font-size="20.8" text-anchor="end">−4</text>
<line x1="186.5" y1="2144.1" x2="201" y2="2144.1" stroke="#2a2a2a" stroke-width="1.4" />
<text x="174.7" y="2151.5" font-size="20.8" text-anchor="end">−6</text>
<rect x="251.9" y="1948.8" width="39.9" height="92.44" fill="#a6a6a6" stroke="#000" stroke-width="2.6" />
<rect x="320.4" y="1936.59" width="41.3" height="12.21" fill="#00a99d" stroke="#000" stroke-width="2.6" />
<rect x="391.2" y="1901.6" width="40.8" height="47.2" fill="#6b3a96" stroke="#000" stroke-width="2.6" />
<rect x="462" y="1948.8" width="40" height="103.51" fill="#b3b3b3" stroke="#000" stroke-width="2.6" />
<rect x="540" y="1948.8" width="40.9" height="90.81" fill="#a6a6a6" stroke="#000" stroke-width="2.6" />
<rect x="610.4" y="1937.9" width="41.3" height="10.9" fill="#00a99d" stroke="#000" stroke-width="2.6" />
<rect x="680.7" y="1893.46" width="40.8" height="55.34" fill="#6b3a96" stroke="#000" stroke-width="2.6" />
<rect x="751" y="1948.8" width="40.9" height="107.42" fill="#b3b3b3" stroke="#000" stroke-width="2.6" />
<line x1="201" y1="1948.8" x2="812.3" y2="1948.8" stroke="#2a2a2a" stroke-width="1.2" />
<line x1="271" y1="2019" x2="271" y2="2065" stroke="#000" stroke-width="2.4" />
<line x1="260.5" y1="2019" x2="281.5" y2="2019" stroke="#000" stroke-width="2.4" />
<line x1="260.5" y1="2065" x2="281.5" y2="2065" stroke="#000" stroke-width="2.4" />
<line x1="340.8" y1="1911.6" x2="340.8" y2="1959.3" stroke="#000" stroke-width="2.4" />
<line x1="330.3" y1="1911.6" x2="351.3" y2="1911.6" stroke="#000" stroke-width="2.4" />
<line x1="330.3" y1="1959.3" x2="351.3" y2="1959.3" stroke="#000" stroke-width="2.4" />
<line x1="411.1" y1="1875.3" x2="411.1" y2="1925.2" stroke="#000" stroke-width="2.4" />
<line x1="400.6" y1="1875.3" x2="421.6" y2="1875.3" stroke="#000" stroke-width="2.4" />
<line x1="400.6" y1="1925.2" x2="421.6" y2="1925.2" stroke="#000" stroke-width="2.4" />
<line x1="481.5" y1="2050.8" x2="481.5" y2="2056.5" stroke="#000" stroke-width="2.4" />
<line x1="471" y1="2050.8" x2="492" y2="2050.8" stroke="#000" stroke-width="2.4" />
<line x1="471" y1="2056.5" x2="492" y2="2056.5" stroke="#000" stroke-width="2.4" />
<line x1="561.3" y1="2016" x2="561.3" y2="2063.6" stroke="#000" stroke-width="2.4" />
<line x1="550.8" y1="2016" x2="571.8" y2="2016" stroke="#000" stroke-width="2.4" />
<line x1="550.8" y1="2063.6" x2="571.8" y2="2063.6" stroke="#000" stroke-width="2.4" />
<line x1="630.8" y1="1919.3" x2="630.8" y2="1953.8" stroke="#000" stroke-width="2.4" />
<line x1="620.3" y1="1919.3" x2="641.3" y2="1919.3" stroke="#000" stroke-width="2.4" />
<line x1="620.3" y1="1953.8" x2="641.3" y2="1953.8" stroke="#000" stroke-width="2.4" />
<line x1="701.1" y1="1879" x2="701.1" y2="1906" stroke="#000" stroke-width="2.4" />
<line x1="690.6" y1="1879" x2="711.6" y2="1879" stroke="#000" stroke-width="2.4" />
<line x1="690.6" y1="1906" x2="711.6" y2="1906" stroke="#000" stroke-width="2.4" />
<line x1="771.5" y1="2053.5" x2="771.5" y2="2058.5" stroke="#000" stroke-width="2.4" />
<line x1="761" y1="2053.5" x2="782" y2="2053.5" stroke="#000" stroke-width="2.4" />
<line x1="761" y1="2058.5" x2="782" y2="2058.5" stroke="#000" stroke-width="2.4" />
<circle cx="271" cy="2000" r="5.4" fill="#000" />
<circle cx="271" cy="2046.8" r="5.4" fill="#000" />
<circle cx="271" cy="2079.5" r="5.4" fill="#000" />
<circle cx="341.3" cy="1908" r="5.4" fill="#000" />
<circle cx="348.5" cy="1942" r="5.4" fill="#000" />
<circle cx="332.6" cy="1954.7" r="5.4" fill="#000" />
<circle cx="411.1" cy="1874" r="5.4" fill="#000" />
<circle cx="411.1" cy="1904.8" r="5.4" fill="#000" />
<circle cx="411.1" cy="1923.4" r="5.4" fill="#000" />
<circle cx="469.7" cy="2047.7" r="5.4" fill="#000" />
<circle cx="481" cy="2056" r="5.4" fill="#000" />
<circle cx="492.4" cy="2056" r="5.4" fill="#000" />
<circle cx="561.3" cy="1992" r="5.4" fill="#000" />
<circle cx="552.3" cy="2068" r="5.4" fill="#000" />
<circle cx="568.6" cy="2060" r="5.4" fill="#000" />
<circle cx="630.8" cy="1916" r="5.4" fill="#000" />
<circle cx="622.6" cy="1948" r="5.4" fill="#000" />
<circle cx="639.9" cy="1945.6" r="5.4" fill="#000" />
<circle cx="693" cy="1883" r="5.4" fill="#000" />
<circle cx="710.2" cy="1887.5" r="5.4" fill="#000" />
<circle cx="701.1" cy="1908.4" r="5.4" fill="#000" />
<circle cx="758.8" cy="2051" r="5.4" fill="#000" />
<circle cx="770.5" cy="2060" r="5.4" fill="#000" />
<circle cx="782.8" cy="2060" r="5.4" fill="#000" />
<path d="M271.4,1839 V1829 H410.7 V1839" fill="none" stroke="#000" stroke-width="2.4" />
<text x="342.6" y="1818.6" font-size="17" text-anchor="middle" textLength="53" lengthAdjust="spacingAndGlyphs"><tspan font-size="13.6">&lt;</tspan>0.001</text>
<text x="341.3" y="1855.61" font-size="28.5" text-anchor="middle" textLength="37.9" lengthAdjust="spacingAndGlyphs">***</text>
<path d="M561,1839 V1829 H699.8 V1839" fill="none" stroke="#000" stroke-width="2.4" />
<text x="632.1" y="1818.6" font-size="17" text-anchor="middle" textLength="53" lengthAdjust="spacingAndGlyphs"><tspan font-size="13.6">&lt;</tspan>0.001</text>
<text x="630.8" y="1855.61" font-size="28.5" text-anchor="middle" textLength="37.9" lengthAdjust="spacingAndGlyphs">***</text>
<path d="M271.4,1890.7 V1880.7 H339.4 V1890.7" fill="none" stroke="#000" stroke-width="2.4" />
<text x="307.2" y="1870.8" font-size="17" text-anchor="middle" textLength="53" lengthAdjust="spacingAndGlyphs"><tspan font-size="13.6">&lt;</tspan>0.001</text>
<text x="305.4" y="1907.11" font-size="28.5" text-anchor="middle" textLength="37.9" lengthAdjust="spacingAndGlyphs">***</text>
<path d="M561,1890.7 V1880.7 H628.5 V1890.7" fill="none" stroke="#000" stroke-width="2.4" />
<text x="596.7" y="1870.8" font-size="17" text-anchor="middle" textLength="53" lengthAdjust="spacingAndGlyphs"><tspan font-size="13.6">&lt;</tspan>0.001</text>
<text x="594.5" y="1907.11" font-size="28.5" text-anchor="middle" textLength="37.9" lengthAdjust="spacingAndGlyphs">***</text>
<circle cx="522" cy="1817.1" r="2.8" fill="#000" />
<circle cx="522" cy="1828.18" r="2.8" fill="#000" />
<circle cx="522" cy="1839.26" r="2.8" fill="#000" />
<circle cx="522" cy="1850.34" r="2.8" fill="#000" />
<circle cx="522" cy="1861.42" r="2.8" fill="#000" />
<circle cx="522" cy="1872.5" r="2.8" fill="#000" />
<circle cx="522" cy="1883.58" r="2.8" fill="#000" />
<circle cx="522" cy="1894.66" r="2.8" fill="#000" />
<circle cx="522" cy="1905.74" r="2.8" fill="#000" />
<circle cx="522" cy="1916.82" r="2.8" fill="#000" />
<circle cx="522" cy="1927.9" r="2.8" fill="#000" />
<circle cx="522" cy="1938.98" r="2.8" fill="#000" />
<circle cx="522" cy="1950.06" r="2.8" fill="#000" />
<circle cx="522" cy="1961.14" r="2.8" fill="#000" />
<circle cx="522" cy="1972.22" r="2.8" fill="#000" />
<circle cx="522" cy="1983.3" r="2.8" fill="#000" />
<circle cx="522" cy="1994.38" r="2.8" fill="#000" />
<circle cx="522" cy="2005.46" r="2.8" fill="#000" />
<circle cx="522" cy="2016.54" r="2.8" fill="#000" />
<circle cx="522" cy="2027.62" r="2.8" fill="#000" />
<circle cx="522" cy="2038.7" r="2.8" fill="#000" />
<circle cx="522" cy="2049.78" r="2.8" fill="#000" />
<circle cx="522" cy="2060.86" r="2.8" fill="#000" />
<circle cx="522" cy="2071.94" r="2.8" fill="#000" />
<circle cx="522" cy="2083.02" r="2.8" fill="#000" />
<circle cx="522" cy="2094.1" r="2.8" fill="#000" />
<circle cx="522" cy="2105.18" r="2.8" fill="#000" />
<circle cx="522" cy="2116.26" r="2.8" fill="#000" />
<circle cx="522" cy="2127.34" r="2.8" fill="#000" />
<circle cx="522" cy="2138.42" r="2.8" fill="#000" />
<line x1="251.9" y1="2168" x2="502.4" y2="2168" stroke="#000" stroke-width="2.6" />
<line x1="546.8" y1="2168" x2="793.2" y2="2168" stroke="#000" stroke-width="2.6" />
<text x="118.9" y="2196.6" font-size="25.3" textLength="68.5" lengthAdjust="spacingAndGlyphs">mRNA</text>
<text x="375.7" y="2196.6" font-size="25.3" text-anchor="middle" font-style="italic" textLength="52" lengthAdjust="spacingAndGlyphs">rol-6</text>
<text x="670.3" y="2196.6" font-size="25.3" text-anchor="middle" font-style="italic" textLength="52" lengthAdjust="spacingAndGlyphs">sqt-1</text>
<text x="0" y="0" font-size="25.3" text-anchor="middle" textLength="265" lengthAdjust="spacingAndGlyphs" transform="translate(104,1981.1) rotate(-90)"><tspan>log</tspan><tspan font-size="17.2" dy="5.57">2</tspan><tspan dy="-5.57">(tunicamycin/DMSO</tspan></text>
<text x="0" y="0" font-size="25.3" text-anchor="middle" textLength="223" lengthAdjust="spacingAndGlyphs" transform="translate(131.8,1981.4) rotate(-90)"><tspan>relative mRNA level)</tspan></text>
<text x="884.2" y="1667.8" font-size="38.5" font-weight="bold" stroke="#000" stroke-width="1.5" stroke-linejoin="round">l</text>
<text x="1042.7" y="1670.8" font-size="25.3" text-anchor="end" textLength="34" lengthAdjust="spacingAndGlyphs">WT</text>
<text x="1042.7" y="1705.1" font-size="25.3" text-anchor="end" font-style="italic" textLength="136" lengthAdjust="spacingAndGlyphs">rde-1(ne219)</text>
<text x="1042.7" y="1739.5" font-size="25.3" text-anchor="end" font-style="italic" textLength="157.5" lengthAdjust="spacingAndGlyphs">drh-1(ok3495)</text>
<circle cx="1079.2" cy="1658.6" r="11.1" fill="#a6a6a6" stroke="#000" stroke-width="2.6" />
<circle cx="1079.2" cy="1694.2" r="11.1" fill="#fff" stroke="#000" stroke-width="2.6" />
<circle cx="1079.2" cy="1730.3" r="11.1" fill="#fff" stroke="#000" stroke-width="2.6" />
<circle cx="1150.9" cy="1658.6" r="11.1" fill="#fff" stroke="#000" stroke-width="2.6" />
<circle cx="1150.9" cy="1694.2" r="11.1" fill="#00a99d" stroke="#000" stroke-width="2.6" />
<circle cx="1150.9" cy="1730.3" r="11.1" fill="#fff" stroke="#000" stroke-width="2.6" />
<circle cx="1220.1" cy="1658.6" r="11.1" fill="#fff" stroke="#000" stroke-width="2.6" />
<circle cx="1220.1" cy="1694.2" r="11.1" fill="#fff" stroke="#000" stroke-width="2.6" />
<circle cx="1220.1" cy="1730.3" r="11.1" fill="#6b3a96" stroke="#000" stroke-width="2.6" />
<line x1="1041.6" y1="1816.4" x2="1041.6" y2="2142.4" stroke="#2a2a2a" stroke-width="1.4" />
<line x1="1027.3" y1="1816.4" x2="1041.6" y2="1816.4" stroke="#2a2a2a" stroke-width="1.4" />
<text x="1015" y="1823.8" font-size="20.8" text-anchor="end">4</text>
<line x1="1027.3" y1="1881.6" x2="1041.6" y2="1881.6" stroke="#2a2a2a" stroke-width="1.4" />
<text x="1015" y="1889" font-size="20.8" text-anchor="end">2</text>
<line x1="1027.3" y1="1946.8" x2="1041.6" y2="1946.8" stroke="#2a2a2a" stroke-width="1.4" />
<text x="1015" y="1954.2" font-size="20.8" text-anchor="end">0</text>
<line x1="1027.3" y1="2012" x2="1041.6" y2="2012" stroke="#2a2a2a" stroke-width="1.4" />
<text x="1015" y="2019.4" font-size="20.8" text-anchor="end">−2</text>
<line x1="1027.3" y1="2077.2" x2="1041.6" y2="2077.2" stroke="#2a2a2a" stroke-width="1.4" />
<text x="1015" y="2084.6" font-size="20.8" text-anchor="end">−4</text>
<line x1="1027.3" y1="2142.4" x2="1041.6" y2="2142.4" stroke="#2a2a2a" stroke-width="1.4" />
<text x="1015" y="2149.8" font-size="20.8" text-anchor="end">−6</text>
<rect x="1063.5" y="1935.39" width="46.1" height="11.41" fill="#a6a6a6" stroke="#000" stroke-width="2.6" />
<rect x="1131.8" y="1946.8" width="46.4" height="31.62" fill="#00a99d" stroke="#000" stroke-width="2.6" />
<rect x="1200.2" y="1945.17" width="46.9" height="1.63" fill="#6b3a96" stroke="#000" stroke-width="2.6" />
<line x1="1041.6" y1="1946.8" x2="1269.3" y2="1946.8" stroke="#2a2a2a" stroke-width="1.2" />
<line x1="1086.6" y1="1931.2" x2="1086.6" y2="1940.3" stroke="#000" stroke-width="2.4" />
<line x1="1075.1" y1="1931.2" x2="1098.1" y2="1931.2" stroke="#000" stroke-width="2.4" />
<line x1="1075.1" y1="1940.3" x2="1098.1" y2="1940.3" stroke="#000" stroke-width="2.4" />
<line x1="1154.9" y1="1940.3" x2="1154.9" y2="2018.6" stroke="#000" stroke-width="2.4" />
<line x1="1143.4" y1="1940.3" x2="1166.4" y2="1940.3" stroke="#000" stroke-width="2.4" />
<line x1="1143.4" y1="2018.6" x2="1166.4" y2="2018.6" stroke="#000" stroke-width="2.4" />
<line x1="1223.8" y1="1938" x2="1223.8" y2="1950" stroke="#000" stroke-width="2.4" />
<line x1="1212.3" y1="1938" x2="1235.3" y2="1938" stroke="#000" stroke-width="2.4" />
<line x1="1212.3" y1="1950" x2="1235.3" y2="1950" stroke="#000" stroke-width="2.4" />
<circle cx="1071.5" cy="1926.9" r="5.4" fill="#000" />
<circle cx="1086.6" cy="1941.7" r="5.4" fill="#000" />
<circle cx="1101.4" cy="1937.5" r="5.4" fill="#000" />
<circle cx="1154.9" cy="1924" r="5.4" fill="#000" />
<circle cx="1154.9" cy="1958.2" r="5.4" fill="#000" />
<circle cx="1154.9" cy="2055.6" r="5.4" fill="#000" />
<circle cx="1223.8" cy="1932.6" r="5.4" fill="#000" />
<circle cx="1215.3" cy="1952.5" r="5.4" fill="#000" />
<circle cx="1232.4" cy="1946.8" r="5.4" fill="#000" />
<path d="M1084.9,1839.8 V1829.8 H1223.8 V1839.8" fill="none" stroke="#000" stroke-width="2.4" />
<text x="1151.8" y="1822.7" font-size="17" text-anchor="middle" textLength="45" lengthAdjust="spacingAndGlyphs">&gt;0.99</text>
<text x="1154" y="1848.6" font-size="17" text-anchor="middle" textLength="21.5" lengthAdjust="spacingAndGlyphs">NS</text>
<path d="M1084.9,1890.5 V1880.5 H1153.2 V1890.5" fill="none" stroke="#000" stroke-width="2.4" />
<text x="1117.6" y="1873.4" font-size="17" text-anchor="middle" textLength="36" lengthAdjust="spacingAndGlyphs">0.46</text>
<text x="1118.2" y="1899.9" font-size="17" text-anchor="middle" textLength="21.5" lengthAdjust="spacingAndGlyphs">NS</text>
<line x1="1054.1" y1="2167.2" x2="1300.4" y2="2167.2" stroke="#000" stroke-width="2.6" />
<text x="1177.4" y="2197" font-size="25.3" text-anchor="middle" font-style="italic" textLength="58" lengthAdjust="spacingAndGlyphs">pas-7</text>
<text x="0" y="0" font-size="25.3" text-anchor="middle" textLength="265" lengthAdjust="spacingAndGlyphs" transform="translate(947.1,1980.6) rotate(-90)"><tspan>log</tspan><tspan font-size="17.2" dy="5.57">2</tspan><tspan dy="-5.57">(tunicamycin/DMSO</tspan></text>
<text x="0" y="0" font-size="25.3" text-anchor="middle" textLength="223.5" lengthAdjust="spacingAndGlyphs" transform="translate(974.8,1981.2) rotate(-90)"><tspan>relative mRNA level)</tspan></text>
<text x="1387.9" y="1667" font-size="38.5" font-weight="bold" stroke="#000" stroke-width="1.5" stroke-linejoin="round">m</text>
<text x="1645.3" y="1705.7" font-size="24.5" text-anchor="middle" font-style="italic" textLength="120.3" lengthAdjust="spacingAndGlyphs">sGFP::ATM</text>
<line x1="1501.2" y1="1718.4" x2="1791.8" y2="1718.4" stroke="#000" stroke-width="2.6" />
<line x1="1505.6" y1="1744.3" x2="1528.9" y2="1744.3" stroke="#000" stroke-width="8" stroke-linecap="round" />
<text x="1539.9" y="1751.7" font-size="25.3" textLength="31.9" lengthAdjust="spacingAndGlyphs">WT</text>
<line x1="1600.6" y1="1743.3" x2="1622.9" y2="1743.3" stroke="#00a99d" stroke-width="8" stroke-linecap="round" />
<text x="1635.6" y="1751.5" font-size="25.3" font-style="italic" textLength="136" lengthAdjust="spacingAndGlyphs">rde-1(ne219)</text>
<line x1="1496.9" y1="1767.8" x2="1496.9" y2="2094.6" stroke="#2a2a2a" stroke-width="1.4" />
<line x1="1496.9" y1="2094.6" x2="1822.7" y2="2094.6" stroke="#555" stroke-width="1.4" />
<line x1="1482.9" y1="1767.8" x2="1496.9" y2="1767.8" stroke="#2a2a2a" stroke-width="1.4" />
<text x="1470.9" y="1775.2" font-size="20.8" text-anchor="end">0.5</text>
<line x1="1482.9" y1="1876.73" x2="1496.9" y2="1876.73" stroke="#2a2a2a" stroke-width="1.4" />
<text x="1470.9" y="1884.13" font-size="20.8" text-anchor="end">0</text>
<line x1="1482.9" y1="1985.67" x2="1496.9" y2="1985.67" stroke="#2a2a2a" stroke-width="1.4" />
<text x="1470.9" y="1993.07" font-size="20.8" text-anchor="end">−0.5</text>
<line x1="1482.9" y1="2094.6" x2="1496.9" y2="2094.6" stroke="#2a2a2a" stroke-width="1.4" />
<text x="1470.9" y="2102" font-size="20.8" text-anchor="end">−1.0</text>
<line x1="1496.9" y1="2094.6" x2="1496.9" y2="2107.6" stroke="#2a2a2a" stroke-width="1.4" />
<text x="1496.9" y="2135.9" font-size="20.8" text-anchor="middle">0</text>
<line x1="1605.5" y1="2094.6" x2="1605.5" y2="2107.6" stroke="#2a2a2a" stroke-width="1.4" />
<text x="1605.5" y="2135.9" font-size="20.8" text-anchor="middle">100</text>
<line x1="1714.1" y1="2094.6" x2="1714.1" y2="2107.6" stroke="#2a2a2a" stroke-width="1.4" />
<text x="1714.1" y="2135.9" font-size="20.8" text-anchor="middle">200</text>
<line x1="1822.7" y1="2094.6" x2="1822.7" y2="2107.6" stroke="#2a2a2a" stroke-width="1.4" />
<text x="1822.7" y="2135.9" font-size="20.8" text-anchor="middle">300</text>
<text x="1664.2" y="2174.7" font-size="25.3" text-anchor="middle" textLength="181.7" lengthAdjust="spacingAndGlyphs"><tspan>α-Amanitin (min)</tspan></text>
<text x="0" y="0" font-size="25.3" text-anchor="middle" textLength="237.5" lengthAdjust="spacingAndGlyphs" transform="translate(1407.8,1931.5) rotate(-90)"><tspan>log</tspan><tspan font-size="17.2" dy="5.57">2</tspan><tspan dy="-5.57">(</tspan><tspan font-style="italic">cpl-1</tspan><tspan>mRNA level)</tspan></text>
<line x1="1594.64" y1="1851.24" x2="1594.64" y2="1816.38" stroke="#00a99d" stroke-width="2.6" />
<line x1="1587.94" y1="1851.24" x2="1601.34" y2="1851.24" stroke="#00a99d" stroke-width="2.6" />
<line x1="1587.94" y1="1816.38" x2="1601.34" y2="1816.38" stroke="#00a99d" stroke-width="2.6" />
<line x1="1692.38" y1="1843.18" x2="1692.38" y2="1826.19" stroke="#00a99d" stroke-width="2.6" />
<line x1="1685.68" y1="1843.18" x2="1699.08" y2="1843.18" stroke="#00a99d" stroke-width="2.6" />
<line x1="1685.68" y1="1826.19" x2="1699.08" y2="1826.19" stroke="#00a99d" stroke-width="2.6" />
<line x1="1822.7" y1="1827.28" x2="1822.7" y2="1785.01" stroke="#00a99d" stroke-width="2.6" />
<line x1="1816" y1="1827.28" x2="1829.4" y2="1827.28" stroke="#00a99d" stroke-width="2.6" />
<line x1="1816" y1="1785.01" x2="1829.4" y2="1785.01" stroke="#00a99d" stroke-width="2.6" />
<polyline points="1496.9,1876.73 1594.64,1833.81 1692.38,1834.69 1822.7,1806.14" fill="none" stroke="#00a99d" stroke-width="3" stroke-linejoin="round"/>
<circle cx="1496.9" cy="1876.73" r="5.6" fill="#00a99d" />
<circle cx="1594.64" cy="1833.81" r="5.6" fill="#00a99d" />
<circle cx="1692.38" cy="1834.69" r="5.6" fill="#00a99d" />
<circle cx="1822.7" cy="1806.14" r="5.6" fill="#00a99d" />
<line x1="1594.64" y1="1920.96" x2="1594.64" y2="1900.05" stroke="#000" stroke-width="2.6" />
<line x1="1587.94" y1="1920.96" x2="1601.34" y2="1920.96" stroke="#000" stroke-width="2.6" />
<line x1="1587.94" y1="1900.05" x2="1601.34" y2="1900.05" stroke="#000" stroke-width="2.6" />
<line x1="1692.38" y1="1997.43" x2="1692.38" y2="1981.75" stroke="#000" stroke-width="2.6" />
<line x1="1685.68" y1="1997.43" x2="1699.08" y2="1997.43" stroke="#000" stroke-width="2.6" />
<line x1="1685.68" y1="1981.75" x2="1699.08" y2="1981.75" stroke="#000" stroke-width="2.6" />
<polyline points="1496.9,1876.73 1594.64,1910.5 1692.38,1989.59 1822.7,1979.35" fill="none" stroke="#000" stroke-width="3" stroke-linejoin="round"/>
<circle cx="1496.9" cy="1876.73" r="5.6" fill="#000" />
<circle cx="1594.64" cy="1910.5" r="5.6" fill="#000" />
<circle cx="1692.38" cy="1989.59" r="5.6" fill="#000" />
<circle cx="1822.7" cy="1979.35" r="5.6" fill="#000" />
<text x="1592.6" y="1951.01" font-size="28.5" text-anchor="middle" textLength="37.9" lengthAdjust="spacingAndGlyphs">***</text>
<text x="1562.7" y="1960" font-size="17" textLength="53.3" lengthAdjust="spacingAndGlyphs"><tspan font-size="13.6">&lt;</tspan>0.001</text>
<text x="1660.8" y="2010.81" font-size="28.5" text-anchor="middle" textLength="37.9" lengthAdjust="spacingAndGlyphs">***</text>
<text x="1630.5" y="2020.4" font-size="17" textLength="53.8" lengthAdjust="spacingAndGlyphs"><tspan font-size="13.6">&lt;</tspan>0.001</text>
<text x="1826" y="2010.81" font-size="28.5" text-anchor="middle" textLength="37.9" lengthAdjust="spacingAndGlyphs">***</text>
<text x="1795.8" y="2020.4" font-size="17" textLength="53.8" lengthAdjust="spacingAndGlyphs"><tspan font-size="13.6">&lt;</tspan>0.001</text>
</svg>
</body></html>
